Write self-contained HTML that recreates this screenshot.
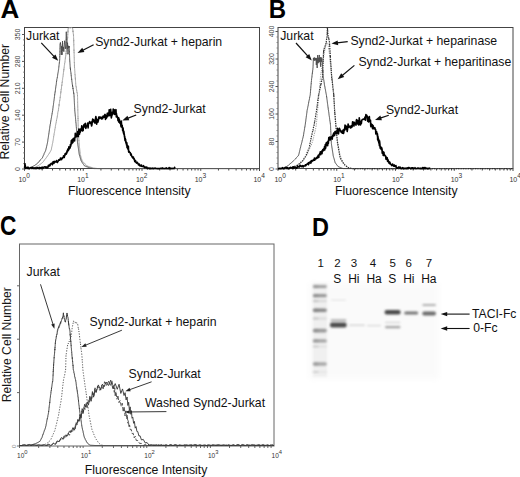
<!DOCTYPE html>
<html><head><meta charset="utf-8"><style>
html,body{margin:0;padding:0;background:#fff;width:520px;height:477px;overflow:hidden}
svg{display:block}
text{font-family:"Liberation Sans", sans-serif}
</style></head><body>
<svg width="520" height="477" viewBox="0 0 520 477" font-family='"Liberation Sans", sans-serif'><defs><filter id="blur" x="-20%" y="-100%" width="140%" height="300%"><feGaussianBlur stdDeviation="0.85"/></filter><filter id="blur2" x="-10%" y="-10%" width="120%" height="120%"><feGaussianBlur stdDeviation="3"/></filter></defs><rect width="520" height="477" fill="#fff"/><rect x="24.5" y="27.5" width="235.0" height="141.0" fill="none" stroke="#444" stroke-width="1"/><line x1="24.50" y1="169.0" x2="24.50" y2="170.8" stroke="#444" stroke-width="1"/><line x1="42.19" y1="169.0" x2="42.19" y2="170.5" stroke="#444" stroke-width="1"/><line x1="52.53" y1="169.0" x2="52.53" y2="170.5" stroke="#444" stroke-width="1"/><line x1="59.87" y1="169.0" x2="59.87" y2="170.5" stroke="#444" stroke-width="1"/><line x1="65.56" y1="169.0" x2="65.56" y2="170.5" stroke="#444" stroke-width="1"/><line x1="70.22" y1="169.0" x2="70.22" y2="170.5" stroke="#444" stroke-width="1"/><line x1="74.15" y1="169.0" x2="74.15" y2="170.5" stroke="#444" stroke-width="1"/><line x1="77.56" y1="169.0" x2="77.56" y2="170.5" stroke="#444" stroke-width="1"/><line x1="80.56" y1="169.0" x2="80.56" y2="170.5" stroke="#444" stroke-width="1"/><line x1="83.25" y1="169.0" x2="83.25" y2="170.8" stroke="#444" stroke-width="1"/><line x1="100.94" y1="169.0" x2="100.94" y2="170.5" stroke="#444" stroke-width="1"/><line x1="111.28" y1="169.0" x2="111.28" y2="170.5" stroke="#444" stroke-width="1"/><line x1="118.62" y1="169.0" x2="118.62" y2="170.5" stroke="#444" stroke-width="1"/><line x1="124.31" y1="169.0" x2="124.31" y2="170.5" stroke="#444" stroke-width="1"/><line x1="128.97" y1="169.0" x2="128.97" y2="170.5" stroke="#444" stroke-width="1"/><line x1="132.90" y1="169.0" x2="132.90" y2="170.5" stroke="#444" stroke-width="1"/><line x1="136.31" y1="169.0" x2="136.31" y2="170.5" stroke="#444" stroke-width="1"/><line x1="139.31" y1="169.0" x2="139.31" y2="170.5" stroke="#444" stroke-width="1"/><line x1="142.00" y1="169.0" x2="142.00" y2="170.8" stroke="#444" stroke-width="1"/><line x1="159.69" y1="169.0" x2="159.69" y2="170.5" stroke="#444" stroke-width="1"/><line x1="170.03" y1="169.0" x2="170.03" y2="170.5" stroke="#444" stroke-width="1"/><line x1="177.37" y1="169.0" x2="177.37" y2="170.5" stroke="#444" stroke-width="1"/><line x1="183.06" y1="169.0" x2="183.06" y2="170.5" stroke="#444" stroke-width="1"/><line x1="187.72" y1="169.0" x2="187.72" y2="170.5" stroke="#444" stroke-width="1"/><line x1="191.65" y1="169.0" x2="191.65" y2="170.5" stroke="#444" stroke-width="1"/><line x1="195.06" y1="169.0" x2="195.06" y2="170.5" stroke="#444" stroke-width="1"/><line x1="198.06" y1="169.0" x2="198.06" y2="170.5" stroke="#444" stroke-width="1"/><line x1="200.75" y1="169.0" x2="200.75" y2="170.8" stroke="#444" stroke-width="1"/><line x1="218.44" y1="169.0" x2="218.44" y2="170.5" stroke="#444" stroke-width="1"/><line x1="228.78" y1="169.0" x2="228.78" y2="170.5" stroke="#444" stroke-width="1"/><line x1="236.12" y1="169.0" x2="236.12" y2="170.5" stroke="#444" stroke-width="1"/><line x1="241.81" y1="169.0" x2="241.81" y2="170.5" stroke="#444" stroke-width="1"/><line x1="246.47" y1="169.0" x2="246.47" y2="170.5" stroke="#444" stroke-width="1"/><line x1="250.40" y1="169.0" x2="250.40" y2="170.5" stroke="#444" stroke-width="1"/><line x1="253.81" y1="169.0" x2="253.81" y2="170.5" stroke="#444" stroke-width="1"/><line x1="256.81" y1="169.0" x2="256.81" y2="170.5" stroke="#444" stroke-width="1"/><line x1="259.5" y1="168.5" x2="259.5" y2="171.0" stroke="#444" stroke-width="1"/><text x="24.20" y="181.6" font-size="7" fill="#333" text-anchor="middle">10<tspan font-size="6.6" dy="-3.8">0</tspan></text><text x="82.95" y="181.6" font-size="7" fill="#333" text-anchor="middle">10<tspan font-size="6.6" dy="-3.8">1</tspan></text><text x="141.70" y="181.6" font-size="7" fill="#333" text-anchor="middle">10<tspan font-size="6.6" dy="-3.8">2</tspan></text><text x="200.45" y="181.6" font-size="7" fill="#333" text-anchor="middle">10<tspan font-size="6.6" dy="-3.8">3</tspan></text><text x="259.20" y="181.6" font-size="7" fill="#333" text-anchor="middle">10<tspan font-size="6.6" dy="-3.8">4</tspan></text><line x1="22.0" y1="169.00" x2="24.5" y2="169.00" stroke="#555" stroke-width="1"/><text transform="translate(20.2,169.00) rotate(-90)" font-size="7" fill="#444" text-anchor="middle">0</text><line x1="23.0" y1="163.62" x2="24.5" y2="163.62" stroke="#777" stroke-width="0.8"/><line x1="23.0" y1="158.24" x2="24.5" y2="158.24" stroke="#777" stroke-width="0.8"/><line x1="23.0" y1="152.86" x2="24.5" y2="152.86" stroke="#777" stroke-width="0.8"/><line x1="23.0" y1="147.48" x2="24.5" y2="147.48" stroke="#777" stroke-width="0.8"/><line x1="22.0" y1="142.10" x2="24.5" y2="142.10" stroke="#555" stroke-width="1"/><text transform="translate(20.2,142.10) rotate(-90)" font-size="7" fill="#444" text-anchor="middle">70</text><line x1="23.0" y1="136.72" x2="24.5" y2="136.72" stroke="#777" stroke-width="0.8"/><line x1="23.0" y1="131.34" x2="24.5" y2="131.34" stroke="#777" stroke-width="0.8"/><line x1="23.0" y1="125.96" x2="24.5" y2="125.96" stroke="#777" stroke-width="0.8"/><line x1="23.0" y1="120.58" x2="24.5" y2="120.58" stroke="#777" stroke-width="0.8"/><line x1="22.0" y1="115.20" x2="24.5" y2="115.20" stroke="#555" stroke-width="1"/><text transform="translate(20.2,115.20) rotate(-90)" font-size="7" fill="#444" text-anchor="middle">140</text><line x1="23.0" y1="109.82" x2="24.5" y2="109.82" stroke="#777" stroke-width="0.8"/><line x1="23.0" y1="104.44" x2="24.5" y2="104.44" stroke="#777" stroke-width="0.8"/><line x1="23.0" y1="99.06" x2="24.5" y2="99.06" stroke="#777" stroke-width="0.8"/><line x1="23.0" y1="93.68" x2="24.5" y2="93.68" stroke="#777" stroke-width="0.8"/><line x1="22.0" y1="88.30" x2="24.5" y2="88.30" stroke="#555" stroke-width="1"/><text transform="translate(20.2,88.30) rotate(-90)" font-size="7" fill="#444" text-anchor="middle">210</text><line x1="23.0" y1="82.92" x2="24.5" y2="82.92" stroke="#777" stroke-width="0.8"/><line x1="23.0" y1="77.54" x2="24.5" y2="77.54" stroke="#777" stroke-width="0.8"/><line x1="23.0" y1="72.16" x2="24.5" y2="72.16" stroke="#777" stroke-width="0.8"/><line x1="23.0" y1="66.78" x2="24.5" y2="66.78" stroke="#777" stroke-width="0.8"/><line x1="22.0" y1="61.40" x2="24.5" y2="61.40" stroke="#555" stroke-width="1"/><text transform="translate(20.2,61.40) rotate(-90)" font-size="7" fill="#444" text-anchor="middle">280</text><line x1="23.0" y1="56.02" x2="24.5" y2="56.02" stroke="#777" stroke-width="0.8"/><line x1="23.0" y1="50.64" x2="24.5" y2="50.64" stroke="#777" stroke-width="0.8"/><line x1="23.0" y1="45.26" x2="24.5" y2="45.26" stroke="#777" stroke-width="0.8"/><line x1="23.0" y1="39.88" x2="24.5" y2="39.88" stroke="#777" stroke-width="0.8"/><line x1="22.0" y1="34.50" x2="24.5" y2="34.50" stroke="#555" stroke-width="1"/><text transform="translate(20.2,34.50) rotate(-90)" font-size="7" fill="#444" text-anchor="middle">350</text><text transform="translate(0.5,17.9) scale(1.04,1.0)" font-size="25" font-weight="bold" fill="#000">A</text><text transform="translate(9.3,159.6) rotate(-90)" font-size="12.25" fill="#111">Relative Cell Number</text><text x="68.0" y="195.3" font-size="12.25" font-weight="normal" fill="#111" text-anchor="start" >Fluorescence Intensity</text><path d="M24.50,168.60 L25.15,168.60 L25.80,168.60 L26.45,168.60 L27.10,168.60 L27.75,168.60 L28.40,168.60 L29.05,168.60 L29.70,168.60 L30.35,168.60 L31.00,168.60 L31.60,168.44 L32.20,168.24 L32.80,168.17 L33.40,167.96 L34.00,167.81 L34.54,167.42 L35.09,167.25 L35.63,167.09 L36.18,166.66 L36.72,166.48 L37.27,166.06 L37.81,165.98 L38.36,165.65 L38.90,165.29 L39.39,165.04 L39.88,164.44 L40.36,164.24 L40.85,163.95 L41.34,163.39 L41.82,163.05 L42.31,162.55 L42.80,162.28 L43.18,161.72 L43.57,161.38 L43.95,160.71 L44.33,160.09 L44.72,159.75 L45.10,159.21 L45.48,158.84 L45.87,158.19 L46.25,157.68 L46.63,157.31 L47.02,156.65 L47.40,156.12 L47.72,155.57 L48.03,155.34 L48.35,154.79 L48.67,154.23 L48.98,154.00 L49.30,153.28 L49.62,152.62 L49.93,152.51 L50.25,151.81 L50.57,151.19 L50.88,150.54 L51.20,150.13 L51.32,149.71 L51.45,148.93 L51.57,148.19 L51.69,147.32 L51.82,146.75 L51.94,146.65 L52.06,145.85 L52.18,145.53 L52.31,144.36 L52.43,143.83 L52.55,143.43 L52.68,143.02 L52.80,142.37 L52.90,141.37 L53.00,140.85 L53.10,140.58 L53.20,139.72 L53.30,139.51 L53.40,138.59 L53.50,138.11 L53.60,137.37 L53.70,136.11 L53.80,136.08 L53.90,135.55 L54.00,135.22 L54.10,133.93 L54.20,133.32 L54.30,132.76 L54.40,132.65 L54.50,131.75 L54.60,131.34 L54.70,130.81 L54.80,130.16 L54.90,129.09 L55.00,128.78 L55.10,128.38 L55.20,128.29 L55.30,126.65 L55.40,126.56 L55.51,125.45 L55.62,125.39 L55.73,124.69 L55.85,123.68 L55.96,123.17 L56.07,122.60 L56.18,122.69 L56.29,121.63 L56.40,121.24 L56.52,119.92 L56.63,119.42 L56.74,119.37 L56.85,118.81 L56.96,118.08 L57.07,117.87 L57.18,117.02 L57.30,115.82 L57.41,115.79 L57.52,115.06 L57.63,114.45 L57.74,113.13 L57.85,112.38 L57.97,112.16 L58.08,111.36 L58.19,111.04 L58.30,111.03 L58.38,109.67 L58.47,109.42 L58.55,109.56 L58.64,107.98 L58.72,107.38 L58.81,107.10 L58.89,106.93 L58.98,105.61 L59.06,104.41 L59.15,105.54 L59.23,104.21 L59.32,103.52 L59.40,102.72 L59.48,102.07 L59.57,101.35 L59.65,100.49 L59.74,100.83 L59.82,100.17 L59.91,99.64 L59.99,98.91 L60.08,98.39 L60.16,97.13 L60.25,97.55 L60.33,96.18 L60.42,95.51 L60.50,95.04 L60.58,94.62 L60.66,94.27 L60.74,92.95 L60.82,91.64 L60.90,92.38 L60.98,91.31 L61.06,90.86 L61.14,89.34 L61.22,89.06 L61.30,89.38 L61.38,88.90 L61.46,87.84 L61.54,86.71 L61.62,85.93 L61.70,85.92 L61.78,84.78 L61.86,85.48 L61.94,84.70 L62.02,83.58 L62.10,82.39 L62.18,82.81 L62.26,82.29 L62.34,80.72 L62.42,80.39 L62.50,80.03 L62.58,79.42 L62.66,78.37 L62.74,77.53 L62.82,77.41 L62.90,77.32 L62.98,77.11 L63.06,76.19 L63.14,75.31 L63.22,74.12 L63.30,74.17 L63.38,73.20 L63.46,72.40 L63.54,72.29 L63.62,72.06 L63.70,70.90 L63.78,69.46 L63.86,70.15 L63.94,68.58 L64.02,68.66 L64.10,68.19 L64.18,67.02 L64.26,66.51 L64.34,65.78 L64.42,65.26 L64.50,64.62 L64.58,64.61 L64.66,63.11 L64.74,62.84 L64.82,62.70 L64.90,62.73 L64.98,62.02 L65.06,60.71 L65.14,60.39 L65.22,59.19 L65.30,59.16 L65.38,57.70 L65.46,58.07 L65.54,57.52 L65.62,56.83 L65.70,55.65 L65.78,55.76 L65.86,55.07 L65.94,53.49 L66.02,53.00 L66.10,53.92 L66.18,51.92 L66.26,50.61 L66.34,52.06 L66.42,49.67 L66.50,49.80 L66.56,50.14 L66.61,48.53 L66.66,48.41 L66.72,46.45 L66.78,47.17 L66.83,46.49 L66.88,45.89 L66.94,46.20 L67.00,44.03 L67.05,43.60 L67.10,43.29 L67.16,42.63 L67.22,42.98 L67.27,41.83 L67.32,40.89 L67.38,40.40 L67.44,40.39 L67.49,39.21 L67.54,39.02 L67.60,37.32 L67.64,38.08 L67.67,37.12 L67.71,35.66 L67.74,34.43 L67.78,34.75 L67.81,33.85 L67.85,33.30 L67.88,32.26 L67.92,32.57 L67.95,31.19 L67.99,30.76 L68.02,31.71 L68.06,29.89 L68.09,29.17 L68.13,28.71 L68.16,29.08 L68.20,28.51 L68.81,27.95 L69.43,27.74 L70.04,27.93 L70.66,27.84 L71.27,27.50 L71.89,27.50 L72.50,28.71 L72.58,28.52 L72.67,28.45 L72.75,29.26 L72.83,30.41 L72.92,31.88 L73.00,30.75 L73.08,30.79 L73.17,32.70 L73.25,33.34 L73.33,34.13 L73.42,34.51 L73.50,35.79 L73.52,34.63 L73.54,36.50 L73.56,36.63 L73.58,37.13 L73.60,37.72 L73.62,38.05 L73.64,39.45 L73.66,40.07 L73.68,39.73 L73.70,41.16 L73.72,40.36 L73.74,41.94 L73.76,42.02 L73.78,43.51 L73.80,44.35 L73.82,43.95 L73.84,44.55 L73.86,46.71 L73.88,46.68 L73.90,46.87 L73.92,47.51 L73.94,47.75 L73.96,48.28 L73.98,50.56 L74.00,49.84 L74.02,50.87 L74.04,52.19 L74.05,52.39 L74.07,52.03 L74.09,52.93 L74.11,53.06 L74.12,54.12 L74.14,54.45 L74.16,55.13 L74.18,56.64 L74.20,56.99 L74.21,57.12 L74.23,58.02 L74.25,57.94 L74.27,58.71 L74.29,59.78 L74.30,60.53 L74.32,61.47 L74.34,61.87 L74.36,62.76 L74.38,62.19 L74.39,62.86 L74.41,63.84 L74.43,64.90 L74.45,66.20 L74.46,65.87 L74.48,66.23 L74.50,67.35 L74.54,67.11 L74.59,68.39 L74.63,68.57 L74.67,69.27 L74.72,69.87 L74.76,70.73 L74.80,70.85 L74.85,71.35 L74.89,72.64 L74.93,73.34 L74.98,73.82 L75.02,74.92 L75.06,74.63 L75.11,74.84 L75.15,76.66 L75.19,76.87 L75.24,76.80 L75.28,78.12 L75.32,77.94 L75.37,79.07 L75.41,78.75 L75.45,80.02 L75.50,80.73 L75.54,81.26 L75.58,81.79 L75.63,82.58 L75.67,83.32 L75.71,83.21 L75.76,84.42 L75.80,85.10 L75.91,85.88 L76.01,86.56 L76.12,86.22 L76.22,86.64 L76.33,88.70 L76.44,89.09 L76.54,89.13 L76.65,90.61 L76.76,90.38 L76.86,91.57 L76.97,92.47 L77.08,92.98 L77.18,92.61 L77.29,93.16 L77.39,94.47 L77.50,94.98 L77.51,96.24 L77.53,96.24 L77.54,96.92 L77.55,97.29 L77.57,97.62 L77.58,98.79 L77.59,99.76 L77.61,99.99 L77.62,100.27 L77.63,100.73 L77.65,101.66 L77.66,102.96 L77.67,103.02 L77.69,103.35 L77.70,104.08 L77.72,104.92 L77.73,104.94 L77.74,105.87 L77.76,105.99 L77.77,107.02 L77.78,107.97 L77.80,108.58 L77.81,109.38 L77.82,109.41 L77.84,109.25 L77.85,111.06 L77.86,111.57 L77.88,112.34 L77.89,113.09 L77.90,113.20 L77.92,113.46 L77.93,114.20 L77.94,114.67 L77.96,115.67 L77.97,116.78 L77.98,116.54 L78.00,117.12 L78.01,118.59 L78.03,118.06 L78.04,118.93 L78.05,119.31 L78.07,120.87 L78.08,120.56 L78.09,121.42 L78.11,122.18 L78.12,122.42 L78.13,123.37 L78.15,123.50 L78.16,124.21 L78.17,124.93 L78.19,126.11 L78.20,126.33 L78.23,126.91 L78.26,127.33 L78.29,128.51 L78.32,129.20 L78.35,128.75 L78.38,130.05 L78.42,130.99 L78.45,131.05 L78.48,132.00 L78.51,131.85 L78.54,133.02 L78.57,133.74 L78.60,134.56 L78.63,134.81 L78.66,135.75 L78.69,136.61 L78.72,136.50 L78.75,137.17 L78.78,137.99 L78.82,138.58 L78.85,139.14 L78.88,139.68 L78.91,140.94 L78.94,140.57 L78.97,141.43 L79.00,142.12 L79.06,142.67 L79.13,143.90 L79.19,143.88 L79.26,144.74 L79.33,145.35 L79.39,146.41 L79.45,146.60 L79.52,147.62 L79.58,147.68 L79.65,148.36 L79.72,148.94 L79.78,149.69 L79.84,150.24 L79.91,151.05 L79.97,151.93 L80.04,152.02 L80.11,152.92 L80.17,153.55 L80.23,154.36 L80.30,154.86 L80.49,155.06 L80.68,156.17 L80.87,156.51 L81.06,157.43 L81.25,157.95 L81.44,158.45 L81.63,158.77 L81.82,159.85 L82.01,160.31 L82.20,161.01 L82.63,161.47 L83.05,161.77 L83.48,162.34 L83.91,162.87 L84.34,163.11 L84.76,163.63 L85.19,164.07 L85.62,164.43 L86.05,164.81 L86.47,165.24 L86.90,165.91 L87.47,166.15 L88.05,166.31 L88.62,166.48 L89.19,166.76 L89.76,166.77 L90.34,167.10 L90.91,167.17 L91.48,167.41 L92.05,167.60 L92.63,167.85 L93.20,167.95 L93.80,168.13 L94.40,168.14 L95.00,168.26 L95.60,168.31 L96.20,168.40 L96.80,168.41 L97.40,168.53 L98.00,168.60 L98.60,168.60 L99.20,168.60 L99.80,168.60 L100.40,168.60 L101.00,168.60 L101.60,168.60 L102.21,168.60 L102.81,168.60 L103.41,168.60 L104.01,168.60 L104.61,168.60 L105.21,168.60 L105.81,168.60 L106.41,168.60 L107.01,168.60 L107.61,168.60 L108.21,168.60 L108.81,168.60 L109.41,168.60 L110.01,168.60 L110.62,168.60 L111.22,168.60 L111.82,168.60 L112.42,168.60 L113.02,168.60 L113.62,168.60 L114.22,168.60 L114.82,168.60 L115.42,168.60 L116.02,168.60 L116.62,168.60 L117.22,168.60 L117.82,168.60 L118.43,168.60 L119.03,168.60 L119.63,168.60 L120.23,168.60 L120.83,168.60 L121.43,168.60 L122.03,168.60 L122.63,168.60 L123.23,168.60 L123.83,168.60 L124.43,168.60 L125.03,168.60 L125.63,168.60 L126.24,168.60 L126.84,168.60 L127.44,168.60 L128.04,168.60 L128.64,168.60 L129.24,168.60 L129.84,168.60 L130.44,168.60 L131.04,168.60 L131.64,168.60 L132.24,168.60 L132.84,168.60 L133.44,168.60 L134.04,168.60 L134.65,168.60 L135.25,168.60 L135.85,168.60 L136.45,168.60 L137.05,168.60 L137.65,168.60 L138.25,168.60 L138.85,168.60 L139.45,168.60 L140.05,168.60 L140.65,168.60 L141.25,168.60 L141.85,168.60 L142.46,168.60 L143.06,168.60 L143.66,168.60 L144.26,168.60 L144.86,168.60 L145.46,168.60 L146.06,168.60 L146.66,168.60 L147.26,168.60 L147.86,168.60 L148.46,168.60 L149.06,168.60 L149.66,168.60 L150.26,168.60 L150.87,168.60 L151.47,168.60 L152.07,168.60 L152.67,168.60 L153.27,168.60 L153.87,168.60 L154.47,168.60 L155.07,168.60 L155.67,168.60 L156.27,168.60 L156.87,168.60 L157.47,168.60 L158.07,168.60 L158.68,168.60 L159.28,168.60 L159.88,168.60 L160.48,168.60 L161.08,168.60 L161.68,168.60 L162.28,168.60 L162.88,168.60 L163.48,168.60 L164.08,168.60 L164.68,168.60 L165.28,168.60 L165.88,168.60 L166.49,168.60 L167.09,168.60 L167.69,168.60 L168.29,168.60 L168.89,168.60 L169.49,168.60 L170.09,168.60 L170.69,168.60 L171.29,168.60 L171.89,168.60 L172.49,168.60 L173.09,168.60 L173.69,168.60 L174.29,168.60 L174.90,168.60 L175.50,168.60 L176.10,168.60 L176.70,168.60 L177.30,168.60 L177.90,168.60 L178.50,168.60 L179.10,168.60 L179.70,168.60 L180.30,168.60 L180.90,168.60 L181.50,168.60 L182.10,168.60 L182.71,168.60 L183.31,168.60 L183.91,168.60 L184.51,168.60 L185.11,168.60 L185.71,168.60 L186.31,168.60 L186.91,168.60 L187.51,168.60 L188.11,168.60 L188.71,168.60 L189.31,168.60 L189.91,168.60 L190.51,168.60 L191.12,168.60 L191.72,168.60 L192.32,168.60 L192.92,168.60 L193.52,168.60 L194.12,168.60 L194.72,168.60 L195.32,168.60 L195.92,168.60 L196.52,168.60 L197.12,168.60 L197.72,168.60 L198.32,168.60 L198.93,168.60 L199.53,168.60 L200.13,168.60 L200.73,168.60 L201.33,168.60 L201.93,168.60 L202.53,168.60 L203.13,168.60 L203.73,168.60 L204.33,168.60 L204.93,168.60 L205.53,168.60 L206.13,168.60 L206.74,168.60 L207.34,168.60 L207.94,168.60 L208.54,168.60 L209.14,168.60 L209.74,168.60 L210.34,168.60 L210.94,168.60 L211.54,168.60 L212.14,168.60 L212.74,168.60 L213.34,168.60 L213.94,168.60 L214.54,168.60 L215.15,168.60 L215.75,168.60 L216.35,168.60 L216.95,168.60 L217.55,168.60 L218.15,168.60 L218.75,168.60 L219.35,168.60 L219.95,168.60 L220.55,168.60 L221.15,168.60 L221.75,168.60 L222.35,168.60 L222.96,168.60 L223.56,168.60 L224.16,168.60 L224.76,168.60 L225.36,168.60 L225.96,168.60 L226.56,168.60 L227.16,168.60 L227.76,168.60 L228.36,168.60 L228.96,168.60 L229.56,168.60 L230.16,168.60 L230.76,168.60 L231.37,168.60 L231.97,168.60 L232.57,168.60 L233.17,168.60 L233.77,168.60 L234.37,168.60 L234.97,168.60 L235.57,168.60 L236.17,168.60 L236.77,168.60 L237.37,168.60 L237.97,168.60 L238.57,168.60 L239.18,168.60 L239.78,168.60 L240.38,168.60 L240.98,168.60 L241.58,168.60 L242.18,168.60 L242.78,168.60 L243.38,168.60 L243.98,168.60 L244.58,168.60 L245.18,168.60 L245.78,168.60 L246.38,168.60 L246.99,168.60 L247.59,168.60 L248.19,168.60 L248.79,168.60 L249.39,168.60 L249.99,168.60 L250.59,168.60 L251.19,168.60 L251.79,168.60 L252.39,168.60 L252.99,168.60 L253.59,168.60 L254.19,168.60 L254.79,168.60 L255.40,168.60 L256.00,168.60 L256.60,168.60 L257.20,168.60 L257.80,168.60 L258.40,168.60 L259.00,168.60" fill="none" stroke="#a0a0a0" stroke-width="1.0" stroke-linejoin="round" /><path d="M24.50,168.60 L25.12,168.60 L25.75,168.60 L26.38,168.60 L27.00,168.60 L27.67,168.51 L28.33,168.41 L29.00,168.28 L29.57,168.01 L30.14,167.74 L30.71,167.52 L31.29,167.26 L31.86,167.01 L32.43,166.77 L33.00,166.48 L33.55,166.03 L34.10,165.68 L34.65,165.43 L35.20,165.02 L35.75,164.61 L36.30,164.32 L36.85,163.86 L37.40,163.43 L37.82,163.01 L38.23,162.40 L38.65,161.97 L39.07,161.72 L39.48,160.90 L39.90,160.74 L40.32,159.94 L40.73,159.62 L41.15,159.09 L41.57,158.66 L41.98,158.22 L42.40,157.85 L42.64,157.25 L42.89,156.55 L43.13,156.23 L43.37,155.48 L43.61,154.93 L43.86,154.63 L44.10,153.63 L44.34,153.28 L44.59,152.79 L44.83,152.24 L45.07,151.77 L45.31,151.34 L45.56,150.62 L45.80,150.10 L45.94,149.32 L46.08,148.69 L46.22,148.06 L46.35,147.75 L46.49,146.94 L46.63,146.41 L46.77,145.92 L46.91,145.18 L47.05,144.59 L47.18,144.20 L47.32,143.43 L47.46,142.68 L47.60,142.08 L47.69,141.52 L47.78,140.74 L47.87,140.19 L47.95,139.41 L48.04,139.04 L48.13,138.47 L48.22,137.79 L48.31,137.50 L48.40,136.74 L48.48,136.08 L48.57,135.47 L48.66,135.02 L48.75,134.37 L48.84,133.87 L48.93,133.01 L49.02,132.62 L49.10,131.94 L49.19,131.17 L49.28,130.81 L49.37,129.91 L49.46,129.32 L49.55,128.81 L49.63,128.29 L49.72,127.76 L49.81,127.07 L49.90,126.23 L50.00,125.84 L50.11,125.04 L50.21,124.41 L50.32,124.08 L50.42,123.82 L50.52,122.79 L50.63,121.72 L50.73,121.77 L50.83,120.95 L50.94,119.97 L51.04,119.71 L51.15,119.34 L51.25,118.40 L51.35,117.85 L51.46,117.61 L51.56,116.55 L51.67,116.36 L51.77,115.36 L51.87,115.01 L51.98,114.49 L52.08,113.27 L52.18,113.39 L52.29,112.50 L52.39,112.36 L52.50,111.21 L52.60,110.82 L52.68,110.29 L52.76,109.85 L52.84,108.90 L52.92,108.26 L53.00,107.86 L53.08,107.13 L53.17,106.24 L53.25,105.99 L53.33,105.38 L53.41,104.70 L53.49,104.52 L53.57,103.38 L53.65,102.76 L53.73,102.44 L53.81,101.44 L53.89,100.92 L53.97,100.66 L54.05,100.05 L54.13,99.36 L54.22,98.70 L54.30,98.07 L54.38,97.17 L54.46,96.59 L54.54,96.31 L54.62,95.26 L54.70,95.19 L54.79,93.99 L54.87,93.67 L54.96,92.66 L55.04,92.77 L55.13,92.28 L55.21,91.01 L55.30,91.01 L55.39,90.39 L55.47,89.53 L55.56,88.43 L55.64,88.48 L55.73,87.79 L55.81,86.96 L55.90,86.25 L55.99,85.84 L56.07,84.98 L56.16,84.86 L56.24,84.22 L56.33,83.59 L56.41,82.51 L56.50,82.04 L56.60,81.07 L56.70,80.80 L56.80,79.58 L56.90,79.11 L57.00,78.79 L57.10,78.40 L57.20,78.20 L57.30,77.01 L57.40,76.81 L57.50,76.29 L57.60,75.57 L57.70,74.80 L57.80,74.03 L57.90,73.44 L58.00,72.69 L58.10,72.53 L58.20,71.70 L58.30,71.51 L58.40,70.42 L58.50,70.09 L58.58,69.59 L58.65,68.66 L58.73,68.33 L58.80,67.37 L58.88,67.33 L58.95,66.04 L59.02,65.50 L59.10,64.70 L59.18,64.41 L59.25,63.52 L59.33,63.60 L59.40,62.09 L59.48,61.93 L59.55,61.42 L59.62,60.27 L59.70,60.20 L59.71,59.13 L59.73,58.53 L59.74,58.18 L59.75,57.15 L59.76,56.19 L59.78,56.35 L59.79,55.87 L59.80,55.45 L59.81,53.86 L59.83,53.64 L59.84,53.46 L59.85,53.04 L59.86,52.24 L59.88,50.85 L59.89,50.42 L59.90,49.69 L59.91,49.56 L59.92,49.10 L59.94,48.07 L59.95,47.47 L59.96,47.40 L59.98,46.42 L59.99,45.59 L60.00,45.13 L60.14,43.81 L60.28,43.34 L60.42,42.50 L60.50,44.12 L60.59,44.15 L60.67,44.59 L60.76,45.55 L60.84,45.98 L60.87,46.73 L60.90,47.76 L60.94,48.72 L60.97,48.91 L61.00,49.31 L61.03,49.69 L61.07,50.44 L61.10,51.24 L61.13,52.15 L61.16,52.62 L61.20,52.85 L61.23,53.86 L61.26,54.85 L61.29,53.67 L61.32,53.29 L61.35,52.51 L61.38,52.33 L61.41,51.04 L61.44,51.30 L61.47,50.30 L61.50,49.64 L61.53,49.01 L61.56,48.50 L61.59,47.90 L61.62,46.55 L61.65,46.26 L61.68,45.94 L61.71,46.50 L61.74,47.27 L61.77,47.87 L61.80,47.60 L61.83,48.46 L61.86,49.34 L61.89,49.99 L61.92,50.45 L61.95,50.90 L61.98,51.62 L62.01,52.34 L62.04,52.84 L62.07,53.90 L62.10,54.75 L62.12,53.54 L62.14,52.85 L62.16,52.63 L62.18,51.76 L62.20,51.53 L62.22,50.71 L62.24,49.26 L62.26,49.17 L62.28,48.67 L62.30,47.93 L62.32,47.94 L62.34,46.61 L62.36,46.48 L62.38,44.86 L62.40,44.97 L62.42,43.94 L62.44,43.90 L62.46,43.18 L62.48,42.31 L62.50,41.42 L62.52,41.06 L62.55,42.18 L62.58,42.77 L62.60,43.75 L62.63,43.45 L62.66,44.66 L62.69,45.23 L62.72,45.64 L62.74,46.06 L62.77,46.96 L62.80,47.38 L62.83,48.30 L62.86,49.01 L62.88,49.78 L62.91,49.77 L62.94,50.83 L63.01,49.86 L63.08,49.72 L63.15,48.96 L63.22,48.47 L63.29,47.51 L63.36,46.92 L63.41,47.73 L63.47,48.14 L63.52,49.28 L63.57,49.55 L63.62,50.48 L63.68,50.51 L63.73,51.21 L63.78,51.48 L63.83,51.66 L63.89,50.88 L63.94,50.64 L63.99,49.68 L64.04,49.23 L64.10,48.13 L64.15,47.60 L64.20,46.82 L64.25,46.34 L64.29,45.51 L64.34,45.15 L64.39,44.47 L64.43,43.79 L64.48,42.86 L64.53,42.52 L64.57,41.28 L64.62,40.79 L64.70,41.73 L64.79,42.19 L64.87,43.03 L64.96,43.36 L65.04,43.73 L65.09,44.65 L65.15,45.21 L65.20,45.83 L65.25,46.38 L65.30,46.70 L65.36,47.21 L65.41,48.78 L65.46,48.65 L65.52,48.64 L65.58,47.85 L65.64,46.93 L65.70,46.37 L65.76,45.81 L65.82,45.27 L65.88,44.49 L65.90,43.88 L65.92,43.36 L65.94,43.08 L65.96,41.56 L65.99,41.04 L66.01,40.83 L66.03,40.27 L66.05,40.27 L66.07,39.03 L66.09,38.60 L66.11,37.84 L66.13,36.64 L66.15,36.06 L66.17,35.49 L66.20,35.52 L66.22,34.75 L66.24,33.48 L66.26,32.88 L66.28,32.53 L66.30,31.77 L66.33,32.94 L66.36,33.18 L66.38,33.45 L66.41,34.49 L66.44,35.34 L66.47,35.50 L66.50,36.30 L66.52,37.35 L66.55,37.22 L66.58,37.45 L66.61,38.15 L66.64,39.97 L66.66,39.64 L66.69,40.53 L66.72,40.74 L66.76,41.52 L66.79,43.10 L66.83,42.95 L66.86,43.36 L66.90,44.81 L66.93,45.05 L66.97,45.24 L67.00,46.64 L67.04,47.04 L67.07,47.63 L67.11,48.42 L67.14,49.19 L67.19,48.74 L67.23,47.33 L67.28,46.62 L67.33,46.45 L67.37,45.03 L67.42,45.29 L67.47,44.59 L67.51,43.08 L67.56,42.83 L67.58,43.38 L67.60,43.83 L67.63,44.59 L67.65,45.29 L67.67,45.48 L67.69,46.54 L67.71,47.05 L67.74,47.39 L67.76,48.39 L67.78,49.11 L67.80,49.64 L67.83,49.87 L67.85,50.82 L67.87,50.96 L67.89,51.56 L67.91,52.52 L67.94,53.29 L67.96,53.12 L67.98,54.30 L68.01,53.72 L68.04,53.10 L68.08,52.70 L68.11,51.56 L68.14,51.29 L68.17,50.07 L68.21,49.93 L68.24,49.37 L68.27,48.23 L68.30,47.81 L68.34,47.38 L68.37,46.28 L68.40,45.82 L68.54,47.11 L68.68,47.87 L68.82,47.60 L68.96,47.21 L69.10,46.69 L69.24,46.00 L69.26,46.08 L69.28,47.11 L69.30,48.27 L69.32,48.45 L69.34,49.02 L69.36,49.33 L69.38,50.80 L69.40,51.70 L69.42,51.35 L69.44,52.16 L69.46,52.96 L69.48,53.60 L69.50,54.10 L69.52,54.07 L69.54,55.11 L69.56,55.81 L69.58,56.37 L69.60,57.22 L69.62,57.70 L69.64,58.10 L69.66,58.77 L69.68,59.82 L69.70,60.53 L69.75,60.43 L69.79,60.87 L69.84,61.92 L69.88,62.35 L69.93,63.25 L69.97,63.75 L70.02,64.35 L70.06,65.19 L70.11,65.70 L70.15,66.52 L70.20,66.60 L70.27,68.14 L70.34,68.86 L70.42,68.42 L70.49,68.95 L70.56,70.58 L70.63,70.58 L70.70,71.26 L70.78,71.88 L70.85,72.03 L70.92,72.66 L70.99,73.73 L71.06,73.64 L71.14,74.42 L71.21,75.94 L71.28,75.87 L71.35,76.63 L71.42,77.29 L71.50,77.90 L71.57,78.30 L71.64,79.24 L71.71,78.98 L71.78,80.21 L71.86,80.68 L71.93,81.63 L72.00,82.30 L72.10,82.45 L72.19,83.41 L72.29,84.46 L72.38,84.40 L72.48,84.92 L72.57,86.32 L72.67,85.89 L72.76,86.95 L72.86,87.43 L72.95,88.78 L73.05,88.27 L73.14,89.32 L73.24,89.70 L73.33,90.80 L73.43,91.55 L73.52,91.53 L73.62,91.97 L73.71,93.63 L73.81,93.25 L73.90,94.22 L74.00,94.94 L74.03,95.37 L74.06,96.01 L74.09,96.96 L74.12,97.29 L74.15,97.95 L74.18,98.52 L74.22,99.14 L74.25,99.82 L74.28,100.49 L74.31,100.64 L74.34,101.56 L74.37,102.47 L74.40,102.71 L74.43,103.63 L74.46,103.90 L74.49,104.63 L74.52,105.42 L74.55,105.92 L74.58,106.50 L74.62,107.15 L74.65,107.55 L74.68,108.04 L74.71,108.87 L74.74,109.40 L74.77,110.14 L74.80,110.91 L74.86,111.43 L74.92,111.94 L74.97,112.52 L75.03,113.44 L75.09,113.46 L75.15,113.92 L75.20,114.70 L75.26,115.80 L75.32,116.30 L75.38,116.46 L75.43,117.30 L75.49,117.53 L75.55,118.63 L75.61,119.46 L75.67,119.72 L75.72,120.23 L75.78,121.39 L75.84,121.43 L75.90,122.04 L75.95,122.98 L76.01,123.12 L76.07,123.83 L76.13,124.66 L76.18,125.27 L76.24,126.15 L76.30,126.57 L76.35,126.91 L76.39,127.83 L76.44,128.28 L76.48,128.86 L76.53,129.38 L76.58,130.11 L76.62,130.78 L76.67,131.21 L76.72,131.94 L76.76,132.35 L76.81,133.03 L76.85,133.58 L76.90,134.09 L76.95,134.74 L76.99,135.65 L77.04,136.07 L77.08,136.75 L77.13,137.12 L77.18,137.96 L77.22,138.51 L77.27,139.06 L77.32,139.47 L77.36,140.73 L77.41,140.95 L77.45,141.45 L77.50,142.35 L77.59,142.91 L77.67,143.10 L77.76,143.91 L77.84,144.34 L77.93,145.04 L78.01,145.78 L78.10,146.19 L78.19,147.09 L78.27,147.44 L78.36,148.15 L78.44,148.64 L78.53,149.33 L78.61,149.82 L78.70,150.53 L78.79,151.32 L78.87,151.84 L78.96,152.42 L79.04,152.97 L79.13,153.61 L79.21,154.06 L79.30,154.68 L79.49,155.37 L79.68,156.08 L79.87,156.36 L80.06,157.17 L80.25,157.82 L80.44,158.50 L80.63,159.15 L80.82,159.72 L81.01,160.31 L81.20,161.03 L81.57,161.45 L81.93,162.03 L82.30,162.73 L82.67,163.12 L83.03,163.75 L83.40,164.26 L83.77,164.60 L84.13,165.31 L84.50,165.84 L85.11,166.11 L85.72,166.22 L86.33,166.60 L86.94,166.76 L87.56,166.99 L88.17,167.22 L88.78,167.50 L89.39,167.77 L90.00,168.03 L90.67,168.05 L91.33,168.20 L92.00,168.30 L92.67,168.40 L93.33,168.51 L94.00,168.60 L94.60,168.60 L95.20,168.60 L95.80,168.60 L96.40,168.60 L97.00,168.60 L97.60,168.60 L98.20,168.60 L98.80,168.60 L99.40,168.60 L100.00,168.60 L100.60,168.60 L101.20,168.60 L101.80,168.60 L102.40,168.60 L103.00,168.60 L103.60,168.60 L104.20,168.60 L104.80,168.60 L105.40,168.60 L106.00,168.60 L106.60,168.60 L107.20,168.60 L107.80,168.60 L108.40,168.60 L109.00,168.60 L109.60,168.60 L110.20,168.60 L110.80,168.60 L111.40,168.60 L112.00,168.60 L112.60,168.60 L113.20,168.60 L113.80,168.60 L114.40,168.60 L115.00,168.60 L115.60,168.60 L116.20,168.60 L116.80,168.60 L117.40,168.60 L118.00,168.60 L118.60,168.60 L119.20,168.60 L119.80,168.60 L120.40,168.60 L121.00,168.60 L121.60,168.60 L122.20,168.60 L122.80,168.60 L123.40,168.60 L124.00,168.60 L124.60,168.60 L125.20,168.60 L125.80,168.60 L126.40,168.60 L127.00,168.60 L127.60,168.60 L128.20,168.60 L128.80,168.60 L129.40,168.60 L130.00,168.60 L130.60,168.60 L131.20,168.60 L131.80,168.60 L132.40,168.60 L133.00,168.60 L133.60,168.60 L134.20,168.60 L134.80,168.60 L135.40,168.60 L136.00,168.60 L136.60,168.60 L137.20,168.60 L137.80,168.60 L138.40,168.60 L139.00,168.60 L139.60,168.60 L140.20,168.60 L140.80,168.60 L141.40,168.60 L142.00,168.60 L142.60,168.60 L143.20,168.60 L143.80,168.60 L144.40,168.60 L145.00,168.60 L145.60,168.60 L146.20,168.60 L146.80,168.60 L147.40,168.60 L148.00,168.60 L148.60,168.60 L149.20,168.60 L149.80,168.60 L150.40,168.60 L151.00,168.60 L151.60,168.60 L152.20,168.60 L152.80,168.60 L153.40,168.60 L154.00,168.60 L154.60,168.60 L155.20,168.60 L155.80,168.60 L156.40,168.60 L157.00,168.60 L157.60,168.60 L158.20,168.60 L158.80,168.60 L159.40,168.60 L160.00,168.60 L160.60,168.60 L161.20,168.60 L161.80,168.60 L162.40,168.60 L163.00,168.60 L163.60,168.60 L164.20,168.60 L164.80,168.60 L165.40,168.60 L166.00,168.60 L166.60,168.60 L167.20,168.60 L167.80,168.60 L168.40,168.60 L169.00,168.60 L169.60,168.60 L170.20,168.60 L170.80,168.60 L171.40,168.60 L172.00,168.60 L172.60,168.60 L173.20,168.60 L173.80,168.60 L174.40,168.60 L175.00,168.60 L175.60,168.60 L176.20,168.60 L176.80,168.60 L177.40,168.60 L178.00,168.60 L178.60,168.60 L179.20,168.60 L179.80,168.60 L180.40,168.60 L181.00,168.60 L181.60,168.60 L182.20,168.60 L182.80,168.60 L183.40,168.60 L184.00,168.60 L184.60,168.60 L185.20,168.60 L185.80,168.60 L186.40,168.60 L187.00,168.60 L187.60,168.60 L188.20,168.60 L188.80,168.60 L189.40,168.60 L190.00,168.60 L190.60,168.60 L191.20,168.60 L191.80,168.60 L192.40,168.60 L193.00,168.60 L193.60,168.60 L194.20,168.60 L194.80,168.60 L195.40,168.60 L196.00,168.60 L196.60,168.60 L197.20,168.60 L197.80,168.60 L198.40,168.60 L199.00,168.60 L199.60,168.60 L200.20,168.60 L200.80,168.60 L201.40,168.60 L202.00,168.60 L202.60,168.60 L203.20,168.60 L203.80,168.60 L204.40,168.60 L205.00,168.60 L205.60,168.60 L206.20,168.60 L206.80,168.60 L207.40,168.60 L208.00,168.60 L208.60,168.60 L209.20,168.60 L209.80,168.60 L210.40,168.60 L211.00,168.60 L211.60,168.60 L212.20,168.60 L212.80,168.60 L213.40,168.60 L214.00,168.60 L214.60,168.60 L215.20,168.60 L215.80,168.60 L216.40,168.60 L217.00,168.60 L217.60,168.60 L218.20,168.60 L218.80,168.60 L219.40,168.60 L220.00,168.60 L220.60,168.60 L221.20,168.60 L221.80,168.60 L222.40,168.60 L223.00,168.60 L223.60,168.60 L224.20,168.60 L224.80,168.60 L225.40,168.60 L226.00,168.60 L226.60,168.60 L227.20,168.60 L227.80,168.60 L228.40,168.60 L229.00,168.60 L229.60,168.60 L230.20,168.60 L230.80,168.60 L231.40,168.60 L232.00,168.60 L232.60,168.60 L233.20,168.60 L233.80,168.60 L234.40,168.60 L235.00,168.60 L235.60,168.60 L236.20,168.60 L236.80,168.60 L237.40,168.60 L238.00,168.60 L238.60,168.60 L239.20,168.60 L239.80,168.60 L240.40,168.60 L241.00,168.60 L241.60,168.60 L242.20,168.60 L242.80,168.60 L243.40,168.60 L244.00,168.60 L244.60,168.60 L245.20,168.60 L245.80,168.60 L246.40,168.60 L247.00,168.60 L247.60,168.60 L248.20,168.60 L248.80,168.60 L249.40,168.60 L250.00,168.60 L250.60,168.60 L251.20,168.60 L251.80,168.60 L252.40,168.60 L253.00,168.60 L253.60,168.60 L254.20,168.60 L254.80,168.60 L255.40,168.60 L256.00,168.60 L256.60,168.60 L257.20,168.60 L257.80,168.60 L258.40,168.60 L259.00,168.60" fill="none" stroke="#4a4a4a" stroke-width="1.0" stroke-linejoin="round" /><path d="M24.50,168.60 L24.55,168.37 L24.60,168.14 L24.65,167.43 L24.70,166.79 L24.75,165.95 L24.80,165.95 L24.85,165.59 L24.90,165.35 L24.95,163.66 L25.00,163.73 L25.07,165.15 L25.15,165.16 L25.23,165.35 L25.30,165.69 L25.38,166.49 L25.45,167.92 L25.53,167.10 L25.60,168.55 L26.07,167.71 L26.53,167.62 L27.00,168.17 L27.45,168.42 L27.91,167.05 L28.36,168.60 L28.81,168.16 L29.27,168.60 L29.72,168.60 L30.18,167.79 L30.63,167.74 L31.08,167.53 L31.54,167.75 L31.99,168.54 L32.44,167.45 L32.90,168.27 L33.35,167.91 L33.80,168.56 L34.26,168.16 L34.71,167.91 L35.16,168.60 L35.62,167.94 L36.07,168.32 L36.53,168.57 L36.98,167.49 L37.43,168.36 L37.89,167.77 L38.34,168.37 L38.79,168.56 L39.25,167.41 L39.70,168.60 L40.16,167.61 L40.63,167.99 L41.09,168.54 L41.56,168.03 L42.02,167.15 L42.49,167.19 L42.95,168.43 L43.42,167.65 L43.88,167.17 L44.35,167.02 L44.81,166.87 L45.28,167.17 L45.74,166.77 L46.21,168.03 L46.67,167.04 L47.14,167.22 L47.60,167.89 L48.00,166.86 L48.40,165.32 L48.80,166.52 L49.20,165.58 L49.60,164.72 L50.00,165.75 L50.40,164.00 L50.80,164.03 L51.20,163.54 L51.60,163.31 L52.00,163.67 L52.40,164.75 L52.80,162.69 L53.20,161.65 L53.60,162.65 L54.00,163.35 L54.40,161.43 L54.80,161.53 L55.20,162.01 L55.64,161.81 L56.08,161.91 L56.53,160.50 L56.97,161.88 L57.41,162.48 L57.85,161.39 L58.29,161.04 L58.73,159.70 L59.17,160.06 L59.62,160.25 L60.06,159.47 L60.50,157.97 L60.84,159.34 L61.19,159.07 L61.53,159.55 L61.88,158.87 L62.22,157.81 L62.57,158.20 L62.91,157.64 L63.26,157.18 L63.60,155.72 L63.89,156.16 L64.18,157.47 L64.47,156.21 L64.76,155.59 L65.05,153.93 L65.35,154.76 L65.64,153.59 L65.93,153.00 L66.22,154.24 L66.51,153.70 L66.80,152.53 L67.01,151.84 L67.21,150.55 L67.42,151.78 L67.63,150.04 L67.83,149.32 L68.04,148.87 L68.25,150.56 L68.45,148.52 L68.66,149.99 L68.87,146.89 L69.07,149.07 L69.28,148.93 L69.49,147.35 L69.69,146.97 L69.90,147.27 L70.14,148.01 L70.38,144.43 L70.62,146.29 L70.85,145.25 L71.09,143.87 L71.33,140.64 L71.57,143.59 L71.81,143.62 L72.05,142.32 L72.28,139.52 L72.52,140.40 L72.76,142.66 L73.00,142.13 L73.23,138.72 L73.46,138.45 L73.69,138.23 L73.91,140.25 L74.14,138.52 L74.37,139.34 L74.60,140.89 L74.83,137.58 L75.06,137.69 L75.29,133.18 L75.51,134.73 L75.74,136.47 L75.97,135.36 L76.20,135.41 L76.50,136.78 L76.80,134.10 L77.10,136.19 L77.40,132.59 L77.70,131.61 L78.00,133.47 L78.30,136.57 L78.60,132.84 L78.90,128.99 L79.20,130.77 L79.50,134.26 L79.80,131.73 L80.10,132.37 L80.40,129.03 L80.74,130.56 L81.09,130.58 L81.43,129.34 L81.78,125.70 L82.12,130.49 L82.47,130.92 L82.81,129.70 L83.16,130.55 L83.50,126.23 L83.97,124.60 L84.43,126.95 L84.90,124.25 L85.37,123.41 L85.83,128.36 L86.30,126.64 L86.77,125.75 L87.23,125.66 L87.70,123.12 L88.08,127.87 L88.47,123.40 L88.85,122.96 L89.23,122.79 L89.62,121.57 L90.00,123.20 L90.38,123.51 L90.77,122.79 L91.15,122.07 L91.54,126.01 L91.92,124.92 L92.31,121.29 L92.69,119.03 L93.08,121.53 L93.46,121.64 L93.85,119.93 L94.23,121.54 L94.62,122.37 L95.00,123.15 L95.42,119.37 L95.83,116.50 L96.25,118.54 L96.67,124.24 L97.08,120.15 L97.50,119.61 L97.92,122.12 L98.33,120.63 L98.75,117.04 L99.17,118.05 L99.58,118.46 L100.00,116.91 L100.44,117.50 L100.89,117.30 L101.33,118.71 L101.78,118.96 L102.22,116.98 L102.67,118.66 L103.11,116.10 L103.56,116.55 L104.00,117.22 L104.50,115.47 L105.00,114.45 L105.50,119.52 L106.00,115.64 L106.50,118.13 L107.00,116.47 L107.27,113.23 L107.55,113.78 L107.82,116.38 L108.09,114.83 L108.36,112.83 L108.64,113.76 L108.91,115.09 L109.18,109.70 L109.45,113.53 L109.73,115.75 L110.00,113.43 L110.33,109.92 L110.67,109.25 L111.00,113.44 L111.33,117.91 L111.67,116.01 L112.00,115.46 L112.25,113.90 L112.49,111.98 L112.74,114.07 L112.98,113.23 L113.23,109.09 L113.47,112.05 L113.72,113.78 L113.96,110.94 L114.21,109.71 L114.45,111.87 L114.70,114.52 L114.88,111.85 L115.06,111.52 L115.24,110.87 L115.42,114.32 L115.60,113.75 L115.78,110.14 L115.96,109.65 L116.14,112.99 L116.32,117.03 L116.50,113.70 L116.69,114.96 L116.88,115.54 L117.06,116.03 L117.25,116.20 L117.44,117.02 L117.62,117.92 L117.81,118.33 L118.00,120.74 L118.22,117.95 L118.44,118.59 L118.67,117.88 L118.89,122.14 L119.11,119.44 L119.33,119.22 L119.56,121.87 L119.78,121.79 L120.00,123.45 L120.22,121.20 L120.44,122.38 L120.67,122.77 L120.89,125.90 L121.11,126.70 L121.33,121.04 L121.56,124.24 L121.78,127.26 L122.00,126.63 L122.17,125.19 L122.33,127.11 L122.50,128.30 L122.67,130.65 L122.83,127.65 L123.00,128.92 L123.17,128.50 L123.33,132.39 L123.50,130.99 L123.57,133.62 L123.64,131.02 L123.71,131.36 L123.78,131.23 L123.85,132.54 L123.92,131.53 L123.99,131.90 L124.06,135.00 L124.13,134.65 L124.20,134.59 L124.27,133.72 L124.34,134.81 L124.41,135.49 L124.48,137.07 L124.55,136.53 L124.62,136.18 L124.69,138.17 L124.76,136.48 L124.83,138.30 L124.90,139.72 L125.04,140.74 L125.18,138.40 L125.32,139.49 L125.46,139.90 L125.60,139.31 L125.75,141.06 L125.89,142.94 L126.03,142.12 L126.17,143.65 L126.31,142.11 L126.45,145.05 L126.59,144.49 L126.73,143.61 L126.87,142.89 L127.01,147.60 L127.15,147.14 L127.30,145.14 L127.44,145.65 L127.58,148.35 L127.72,148.75 L127.86,147.70 L128.00,149.16 L128.19,149.10 L128.38,146.40 L128.56,151.09 L128.75,152.10 L128.94,151.81 L129.13,151.18 L129.32,152.29 L129.51,152.28 L129.69,152.51 L129.88,152.62 L130.07,152.61 L130.26,152.64 L130.45,154.18 L130.64,153.63 L130.82,155.12 L131.01,154.87 L131.20,153.96 L131.48,155.53 L131.75,156.22 L132.03,156.21 L132.31,157.42 L132.58,156.98 L132.86,157.90 L133.14,158.33 L133.41,157.08 L133.69,158.92 L133.96,158.68 L134.24,158.75 L134.52,160.27 L134.79,161.55 L135.07,160.23 L135.35,161.87 L135.62,160.71 L135.90,162.25 L136.27,162.70 L136.64,163.03 L137.01,162.52 L137.38,162.34 L137.75,163.22 L138.12,164.01 L138.49,164.82 L138.86,163.77 L139.24,164.07 L139.61,165.66 L139.98,164.98 L140.35,166.01 L140.72,165.65 L141.09,166.06 L141.46,165.08 L141.83,166.39 L142.20,166.56 L142.66,166.39 L143.12,166.47 L143.58,165.71 L144.04,166.79 L144.49,167.68 L144.95,167.08 L145.41,167.14 L145.87,167.64 L146.33,167.20 L146.79,167.08 L147.25,168.60 L147.71,168.60 L148.16,168.07 L148.62,168.07 L149.08,168.60 L149.54,168.17 L150.00,168.60 L150.45,168.60 L150.91,168.12 L151.36,168.56 L151.82,168.60 L152.27,168.60 L152.73,168.07 L153.18,168.60 L153.64,168.60 L154.09,168.30 L154.55,168.43 L155.00,168.18 L155.45,168.53 L155.91,168.36 L156.36,168.60 L156.82,168.48 L157.27,168.60 L157.73,168.60 L158.18,168.60 L158.64,168.60 L159.09,168.56 L159.55,168.55 L160.00,168.60 L160.45,168.35 L160.91,168.21 L161.36,168.53 L161.82,168.60 L162.27,167.84 L162.73,168.60 L163.18,168.35 L163.64,168.60 L164.09,168.60 L164.55,168.60 L165.00,168.47 L165.45,168.30 L165.91,168.60 L166.36,167.85 L166.82,168.60 L167.27,168.60 L167.73,168.54 L168.18,168.56 L168.64,168.60 L169.09,167.50 L169.55,168.60 L170.00,168.42 L170.45,168.08 L170.91,168.60 L171.36,168.60 L171.82,168.37 L172.27,168.60 L172.73,168.36 L173.18,168.60 L173.64,168.47 L174.09,168.60 L174.55,167.33 L175.00,168.60" fill="none" stroke="#000" stroke-width="1.6" stroke-linejoin="round" /><text x="26.0" y="40.1" font-size="12.25" font-weight="normal" fill="#111" text-anchor="start" >Jurkat</text><line x1="41.3" y1="42.8" x2="54.44" y2="56.79" stroke="#111" stroke-width="1.2"/><polygon points="58.20,60.80 52.00,57.70 55.50,54.42" fill="#111"/><text x="95.2" y="46.3" font-size="12.25" font-weight="normal" fill="#111" text-anchor="start" >Synd2-Jurkat + heparin</text><line x1="93.6" y1="44.8" x2="82.41" y2="50.43" stroke="#111" stroke-width="1.2"/><polygon points="77.50,52.90 82.23,47.83 84.39,52.12" fill="#111"/><text x="133.6" y="113.4" font-size="12.25" font-weight="normal" fill="#111" text-anchor="start" >Synd2-Jurkat</text><line x1="136.2" y1="115" x2="127.43" y2="118.41" stroke="#111" stroke-width="1.2"/><polygon points="122.30,120.40 127.49,115.81 129.23,120.28" fill="#111"/><rect x="278.0" y="27.5" width="235.0" height="141.0" fill="none" stroke="#444" stroke-width="1"/><line x1="278.00" y1="169.0" x2="278.00" y2="170.8" stroke="#444" stroke-width="1"/><line x1="295.69" y1="169.0" x2="295.69" y2="170.5" stroke="#444" stroke-width="1"/><line x1="306.03" y1="169.0" x2="306.03" y2="170.5" stroke="#444" stroke-width="1"/><line x1="313.37" y1="169.0" x2="313.37" y2="170.5" stroke="#444" stroke-width="1"/><line x1="319.06" y1="169.0" x2="319.06" y2="170.5" stroke="#444" stroke-width="1"/><line x1="323.72" y1="169.0" x2="323.72" y2="170.5" stroke="#444" stroke-width="1"/><line x1="327.65" y1="169.0" x2="327.65" y2="170.5" stroke="#444" stroke-width="1"/><line x1="331.06" y1="169.0" x2="331.06" y2="170.5" stroke="#444" stroke-width="1"/><line x1="334.06" y1="169.0" x2="334.06" y2="170.5" stroke="#444" stroke-width="1"/><line x1="336.75" y1="169.0" x2="336.75" y2="170.8" stroke="#444" stroke-width="1"/><line x1="354.44" y1="169.0" x2="354.44" y2="170.5" stroke="#444" stroke-width="1"/><line x1="364.78" y1="169.0" x2="364.78" y2="170.5" stroke="#444" stroke-width="1"/><line x1="372.12" y1="169.0" x2="372.12" y2="170.5" stroke="#444" stroke-width="1"/><line x1="377.81" y1="169.0" x2="377.81" y2="170.5" stroke="#444" stroke-width="1"/><line x1="382.47" y1="169.0" x2="382.47" y2="170.5" stroke="#444" stroke-width="1"/><line x1="386.40" y1="169.0" x2="386.40" y2="170.5" stroke="#444" stroke-width="1"/><line x1="389.81" y1="169.0" x2="389.81" y2="170.5" stroke="#444" stroke-width="1"/><line x1="392.81" y1="169.0" x2="392.81" y2="170.5" stroke="#444" stroke-width="1"/><line x1="395.50" y1="169.0" x2="395.50" y2="170.8" stroke="#444" stroke-width="1"/><line x1="413.19" y1="169.0" x2="413.19" y2="170.5" stroke="#444" stroke-width="1"/><line x1="423.53" y1="169.0" x2="423.53" y2="170.5" stroke="#444" stroke-width="1"/><line x1="430.87" y1="169.0" x2="430.87" y2="170.5" stroke="#444" stroke-width="1"/><line x1="436.56" y1="169.0" x2="436.56" y2="170.5" stroke="#444" stroke-width="1"/><line x1="441.22" y1="169.0" x2="441.22" y2="170.5" stroke="#444" stroke-width="1"/><line x1="445.15" y1="169.0" x2="445.15" y2="170.5" stroke="#444" stroke-width="1"/><line x1="448.56" y1="169.0" x2="448.56" y2="170.5" stroke="#444" stroke-width="1"/><line x1="451.56" y1="169.0" x2="451.56" y2="170.5" stroke="#444" stroke-width="1"/><line x1="454.25" y1="169.0" x2="454.25" y2="170.8" stroke="#444" stroke-width="1"/><line x1="471.94" y1="169.0" x2="471.94" y2="170.5" stroke="#444" stroke-width="1"/><line x1="482.28" y1="169.0" x2="482.28" y2="170.5" stroke="#444" stroke-width="1"/><line x1="489.62" y1="169.0" x2="489.62" y2="170.5" stroke="#444" stroke-width="1"/><line x1="495.31" y1="169.0" x2="495.31" y2="170.5" stroke="#444" stroke-width="1"/><line x1="499.97" y1="169.0" x2="499.97" y2="170.5" stroke="#444" stroke-width="1"/><line x1="503.90" y1="169.0" x2="503.90" y2="170.5" stroke="#444" stroke-width="1"/><line x1="507.31" y1="169.0" x2="507.31" y2="170.5" stroke="#444" stroke-width="1"/><line x1="510.31" y1="169.0" x2="510.31" y2="170.5" stroke="#444" stroke-width="1"/><line x1="513.0" y1="168.5" x2="513.0" y2="171.0" stroke="#444" stroke-width="1"/><text x="274.40" y="181.6" font-size="7" fill="#333">10<tspan font-size="6.6" dy="-3.8">0</tspan></text><text x="333.15" y="181.6" font-size="7" fill="#333">10<tspan font-size="6.6" dy="-3.8">1</tspan></text><text x="391.90" y="181.6" font-size="7" fill="#333">10<tspan font-size="6.6" dy="-3.8">2</tspan></text><text x="450.65" y="181.6" font-size="7" fill="#333">10<tspan font-size="6.6" dy="-3.8">3</tspan></text><text x="509.40" y="181.6" font-size="7" fill="#333">10<tspan font-size="6.6" dy="-3.8">4</tspan></text><line x1="275.5" y1="169.00" x2="278.0" y2="169.00" stroke="#555" stroke-width="1"/><text transform="translate(274.2,169.00) rotate(-90)" font-size="7" fill="#444" text-anchor="middle">0</text><line x1="276.5" y1="163.50" x2="278.0" y2="163.50" stroke="#777" stroke-width="0.8"/><line x1="276.5" y1="158.00" x2="278.0" y2="158.00" stroke="#777" stroke-width="0.8"/><line x1="276.5" y1="152.50" x2="278.0" y2="152.50" stroke="#777" stroke-width="0.8"/><line x1="276.5" y1="147.00" x2="278.0" y2="147.00" stroke="#777" stroke-width="0.8"/><line x1="275.5" y1="141.50" x2="278.0" y2="141.50" stroke="#555" stroke-width="1"/><text transform="translate(274.2,141.50) rotate(-90)" font-size="7" fill="#444" text-anchor="middle">80</text><line x1="276.5" y1="136.00" x2="278.0" y2="136.00" stroke="#777" stroke-width="0.8"/><line x1="276.5" y1="130.50" x2="278.0" y2="130.50" stroke="#777" stroke-width="0.8"/><line x1="276.5" y1="125.00" x2="278.0" y2="125.00" stroke="#777" stroke-width="0.8"/><line x1="276.5" y1="119.50" x2="278.0" y2="119.50" stroke="#777" stroke-width="0.8"/><line x1="275.5" y1="114.00" x2="278.0" y2="114.00" stroke="#555" stroke-width="1"/><text transform="translate(274.2,114.00) rotate(-90)" font-size="7" fill="#444" text-anchor="middle">160</text><line x1="276.5" y1="108.50" x2="278.0" y2="108.50" stroke="#777" stroke-width="0.8"/><line x1="276.5" y1="103.00" x2="278.0" y2="103.00" stroke="#777" stroke-width="0.8"/><line x1="276.5" y1="97.50" x2="278.0" y2="97.50" stroke="#777" stroke-width="0.8"/><line x1="276.5" y1="92.00" x2="278.0" y2="92.00" stroke="#777" stroke-width="0.8"/><line x1="275.5" y1="86.50" x2="278.0" y2="86.50" stroke="#555" stroke-width="1"/><text transform="translate(274.2,86.50) rotate(-90)" font-size="7" fill="#444" text-anchor="middle">240</text><line x1="276.5" y1="81.00" x2="278.0" y2="81.00" stroke="#777" stroke-width="0.8"/><line x1="276.5" y1="75.50" x2="278.0" y2="75.50" stroke="#777" stroke-width="0.8"/><line x1="276.5" y1="70.00" x2="278.0" y2="70.00" stroke="#777" stroke-width="0.8"/><line x1="276.5" y1="64.50" x2="278.0" y2="64.50" stroke="#777" stroke-width="0.8"/><line x1="275.5" y1="59.00" x2="278.0" y2="59.00" stroke="#555" stroke-width="1"/><text transform="translate(274.2,59.00) rotate(-90)" font-size="7" fill="#444" text-anchor="middle">320</text><line x1="276.5" y1="53.50" x2="278.0" y2="53.50" stroke="#777" stroke-width="0.8"/><line x1="276.5" y1="48.00" x2="278.0" y2="48.00" stroke="#777" stroke-width="0.8"/><line x1="276.5" y1="42.50" x2="278.0" y2="42.50" stroke="#777" stroke-width="0.8"/><line x1="276.5" y1="37.00" x2="278.0" y2="37.00" stroke="#777" stroke-width="0.8"/><line x1="275.5" y1="31.50" x2="278.0" y2="31.50" stroke="#555" stroke-width="1"/><text transform="translate(274.2,31.50) rotate(-90)" font-size="7" fill="#444" text-anchor="middle">400</text><text transform="translate(268.8,17.7) scale(0.96,1.0)" font-size="25" font-weight="bold" fill="#000">B</text><text x="335.0" y="194.8" font-size="12.25" font-weight="normal" fill="#111" text-anchor="start" >Fluorescence Intensity</text><path d="M278.00,168.60 L278.62,168.56 L279.25,168.51 L279.88,168.49 L280.50,168.44 L281.12,168.40 L281.75,168.40 L282.38,168.35 L283.00,168.34 L283.54,168.04 L284.09,167.79 L284.63,167.53 L285.17,167.28 L285.71,167.04 L286.26,166.68 L286.80,166.53 L287.27,166.05 L287.74,165.74 L288.21,165.48 L288.68,164.98 L289.15,164.58 L289.62,164.26 L290.09,163.85 L290.56,163.39 L291.03,163.21 L291.50,162.66 L291.98,162.31 L292.45,161.73 L292.93,161.41 L293.40,160.90 L293.88,160.45 L294.35,159.97 L294.82,159.51 L295.30,159.05 L295.71,158.54 L296.12,157.99 L296.54,157.63 L296.95,157.25 L297.36,156.71 L297.78,156.22 L298.19,155.87 L298.60,155.16 L298.74,154.64 L298.89,154.14 L299.03,153.69 L299.18,153.06 L299.32,152.28 L299.46,151.57 L299.61,151.23 L299.75,150.59 L299.89,149.81 L300.04,149.43 L300.18,148.50 L300.32,148.03 L300.47,147.78 L300.61,146.83 L300.76,146.37 L300.90,145.48 L301.05,145.35 L301.20,144.48 L301.35,144.35 L301.50,143.52 L301.65,142.82 L301.80,142.52 L301.95,141.76 L302.10,141.27 L302.25,140.17 L302.40,139.75 L302.55,139.36 L302.70,138.62 L302.85,138.03 L303.00,137.51 L303.15,136.81 L303.30,136.26 L303.40,135.96 L303.50,135.08 L303.60,134.55 L303.70,133.96 L303.80,133.19 L303.90,132.34 L304.00,131.85 L304.10,131.58 L304.20,131.15 L304.30,130.46 L304.40,129.73 L304.50,128.87 L304.60,128.40 L304.70,128.21 L304.80,127.08 L304.90,126.95 L305.00,126.05 L305.10,125.46 L305.20,125.25 L305.28,124.54 L305.36,123.78 L305.44,123.01 L305.52,122.26 L305.60,122.16 L305.68,121.70 L305.75,120.88 L305.83,120.16 L305.91,119.40 L305.99,119.04 L306.07,118.48 L306.15,117.89 L306.23,117.38 L306.31,116.23 L306.39,116.23 L306.47,115.54 L306.55,115.09 L306.62,114.43 L306.70,113.53 L306.78,113.26 L306.86,112.69 L306.94,111.76 L307.02,110.80 L307.10,110.53 L307.22,110.15 L307.34,109.30 L307.46,108.70 L307.58,108.54 L307.70,107.65 L307.82,107.12 L307.93,106.42 L308.05,105.72 L308.17,105.66 L308.29,104.61 L308.41,104.07 L308.53,103.50 L308.65,102.91 L308.77,102.00 L308.89,101.38 L309.01,100.97 L309.13,100.28 L309.25,100.11 L309.37,99.25 L309.48,98.59 L309.60,98.25 L309.72,97.10 L309.84,96.53 L309.96,96.30 L310.08,95.54 L310.20,95.19 L310.25,94.61 L310.30,93.56 L310.36,93.44 L310.41,92.87 L310.46,91.90 L310.51,91.31 L310.56,90.32 L310.62,90.33 L310.67,90.16 L310.72,88.54 L310.77,88.29 L310.82,87.95 L310.88,87.00 L310.93,86.16 L310.98,85.86 L311.03,85.44 L311.08,84.71 L311.14,83.95 L311.19,84.02 L311.24,82.56 L311.29,82.35 L311.34,82.11 L311.40,81.09 L311.45,80.66 L311.50,80.34 L311.57,79.18 L311.65,78.54 L311.73,78.09 L311.80,77.86 L311.88,77.15 L311.95,76.94 L312.02,75.63 L312.10,75.11 L312.18,74.55 L312.25,73.96 L312.32,72.97 L312.40,73.11 L312.48,72.16 L312.55,71.50 L312.62,71.65 L312.70,70.22 L312.77,70.02 L312.85,69.43 L312.93,68.34 L313.00,68.04 L313.02,67.54 L313.05,66.72 L313.07,66.26 L313.10,65.79 L313.12,64.72 L313.15,64.71 L313.18,64.04 L313.20,63.43 L313.22,62.24 L313.25,61.90 L313.27,61.18 L313.30,60.72 L313.32,59.90 L313.35,59.25 L313.38,59.08 L313.40,58.16 L313.54,59.14 L313.68,59.35 L313.82,60.31 L313.93,60.07 L314.03,58.71 L314.13,58.47 L314.24,57.42 L314.31,57.63 L314.38,58.18 L314.45,59.50 L314.52,59.59 L314.59,59.91 L314.66,60.66 L314.77,60.48 L314.87,59.86 L314.98,59.23 L315.08,58.08 L315.29,59.16 L315.50,60.21 L315.64,59.59 L315.78,58.79 L315.92,57.87 L315.96,58.07 L316.00,59.36 L316.03,59.56 L316.07,60.51 L316.11,61.01 L316.15,61.28 L316.19,62.48 L316.23,62.84 L316.26,63.75 L316.30,64.45 L316.34,64.94 L316.38,63.92 L316.41,63.60 L316.45,63.08 L316.48,62.65 L316.52,62.76 L316.55,61.59 L316.59,60.57 L316.62,60.08 L316.66,59.15 L316.69,59.02 L316.73,58.32 L316.76,58.12 L316.79,58.45 L316.81,59.12 L316.84,60.33 L316.87,60.03 L316.89,60.51 L316.92,61.90 L316.94,62.06 L316.97,62.73 L317.00,63.26 L317.02,63.86 L317.05,64.79 L317.08,64.98 L317.10,65.78 L317.13,65.95 L317.15,66.78 L317.18,67.93 L317.20,66.86 L317.22,65.82 L317.24,65.32 L317.26,65.17 L317.29,64.65 L317.31,63.65 L317.33,63.03 L317.35,62.06 L317.37,61.77 L317.39,60.99 L317.41,60.25 L317.43,59.94 L317.45,59.38 L317.47,58.99 L317.50,58.51 L317.52,57.44 L317.54,56.71 L317.56,56.80 L317.58,55.86 L317.60,55.16 L317.64,55.52 L317.67,56.13 L317.71,56.48 L317.74,57.34 L317.78,58.00 L317.81,58.76 L317.85,59.46 L317.88,59.56 L317.92,60.80 L317.95,60.99 L317.99,61.74 L318.02,63.22 L318.07,61.92 L318.11,61.83 L318.16,61.17 L318.21,59.97 L318.25,59.72 L318.30,58.56 L318.35,58.09 L318.39,57.74 L318.44,57.83 L318.49,57.86 L318.55,58.40 L318.60,58.89 L318.65,59.51 L318.70,60.64 L318.76,61.10 L318.81,61.23 L318.86,62.36 L318.90,61.44 L318.94,60.23 L318.97,60.34 L319.01,59.13 L319.05,58.68 L319.09,58.36 L319.13,57.07 L319.17,56.27 L319.20,56.30 L319.24,54.98 L319.28,55.57 L319.32,56.02 L319.36,55.91 L319.39,56.72 L319.43,57.49 L319.47,57.95 L319.51,58.91 L319.55,59.42 L319.59,59.86 L319.62,60.67 L319.66,61.00 L319.70,61.83 L319.77,61.71 L319.84,60.06 L319.91,59.86 L319.98,58.87 L320.05,59.09 L320.12,57.56 L320.15,58.26 L320.18,59.30 L320.21,59.84 L320.24,60.70 L320.27,61.16 L320.30,61.23 L320.33,62.38 L320.36,62.65 L320.39,63.06 L320.42,63.96 L320.45,64.73 L320.48,65.21 L320.51,66.04 L320.54,66.62 L320.57,66.33 L320.60,65.58 L320.62,64.62 L320.65,63.97 L320.68,63.04 L320.71,62.88 L320.74,62.81 L320.76,61.66 L320.79,61.06 L320.82,60.07 L320.85,60.17 L320.88,58.94 L320.90,59.08 L320.93,57.58 L320.96,57.06 L321.03,58.16 L321.10,58.77 L321.17,59.70 L321.24,60.17 L321.31,61.12 L321.38,61.46 L321.46,61.65 L321.55,60.60 L321.63,59.86 L321.72,59.17 L321.80,58.28 L321.84,58.90 L321.89,59.38 L321.93,60.00 L321.97,61.05 L322.01,61.26 L322.06,61.99 L322.10,62.21 L322.14,63.32 L322.19,63.52 L322.23,64.81 L322.27,64.10 L322.31,65.15 L322.36,66.64 L322.40,66.80 L322.44,66.82 L322.49,67.71 L322.53,68.26 L322.57,68.80 L322.61,69.21 L322.66,70.57 L322.70,70.88 L322.74,71.53 L322.79,72.23 L322.83,72.33 L322.87,73.16 L322.91,74.16 L322.96,74.94 L323.00,75.00 L323.09,75.82 L323.19,76.36 L323.28,76.55 L323.38,77.54 L323.47,78.28 L323.56,78.56 L323.66,79.48 L323.75,79.94 L323.84,80.29 L323.94,81.16 L324.03,81.78 L324.12,82.72 L324.22,82.69 L324.31,83.84 L324.41,84.59 L324.50,85.17 L324.62,85.82 L324.74,85.90 L324.86,86.83 L324.98,87.31 L325.09,88.72 L325.21,88.80 L325.33,89.21 L325.45,89.85 L325.57,90.55 L325.69,91.48 L325.81,91.87 L325.92,92.67 L326.04,93.44 L326.16,93.64 L326.28,94.43 L326.40,94.90 L326.48,95.43 L326.56,95.85 L326.64,96.99 L326.72,97.13 L326.80,98.09 L326.88,98.73 L326.97,99.46 L327.05,99.71 L327.13,100.48 L327.21,100.58 L327.29,101.61 L327.37,102.27 L327.45,103.28 L327.53,103.41 L327.61,104.27 L327.69,104.69 L327.77,105.45 L327.85,106.01 L327.93,106.62 L328.02,106.79 L328.10,107.92 L328.18,108.12 L328.26,109.12 L328.34,109.78 L328.42,110.00 L328.50,110.28 L328.58,111.19 L328.67,111.78 L328.75,112.18 L328.83,112.92 L328.92,113.52 L329.00,114.46 L329.08,115.18 L329.17,115.82 L329.25,115.90 L329.33,116.60 L329.42,117.37 L329.50,117.59 L329.58,118.34 L329.67,119.48 L329.75,119.70 L329.83,120.12 L329.92,120.96 L330.00,121.45 L330.08,121.93 L330.17,122.47 L330.25,123.01 L330.33,123.99 L330.42,124.47 L330.50,125.21 L330.53,125.50 L330.56,126.17 L330.59,126.67 L330.62,127.37 L330.65,128.00 L330.67,128.56 L330.70,129.08 L330.73,129.91 L330.76,130.50 L330.79,130.79 L330.82,131.89 L330.85,132.01 L330.88,132.57 L330.91,133.38 L330.94,133.80 L330.96,134.91 L330.99,135.31 L331.02,135.61 L331.05,136.59 L331.08,137.05 L331.11,137.93 L331.14,138.54 L331.17,139.26 L331.20,139.71 L331.23,140.19 L331.25,141.00 L331.28,141.81 L331.31,141.86 L331.34,142.44 L331.37,143.42 L331.40,143.61 L331.50,144.38 L331.59,145.25 L331.69,145.86 L331.78,146.34 L331.88,147.07 L331.97,147.76 L332.06,148.02 L332.16,148.74 L332.25,149.37 L332.35,149.95 L332.44,150.75 L332.54,151.14 L332.63,151.84 L332.73,152.50 L332.82,153.00 L332.92,153.59 L333.01,154.28 L333.11,154.93 L333.20,155.64 L333.30,156.15 L333.47,156.72 L333.65,157.46 L333.82,157.78 L333.99,158.43 L334.16,158.90 L334.34,159.71 L334.51,160.37 L334.68,160.93 L334.85,161.55 L335.03,162.02 L335.20,162.78 L335.60,163.25 L336.00,163.84 L336.40,164.31 L336.80,164.95 L337.20,165.35 L337.60,165.98 L338.00,166.47 L338.56,166.71 L339.11,166.99 L339.67,167.22 L340.22,167.43 L340.78,167.70 L341.33,167.91 L341.89,168.13 L342.44,168.34 L343.00,168.60 L343.60,168.60 L344.20,168.60 L344.80,168.60 L345.40,168.60 L346.00,168.60 L346.60,168.60 L347.20,168.60 L347.81,168.60 L348.41,168.60 L349.01,168.60 L349.61,168.60 L350.21,168.60 L350.81,168.60 L351.41,168.60 L352.01,168.60 L352.61,168.60 L353.21,168.60 L353.81,168.60 L354.41,168.60 L355.01,168.60 L355.61,168.60 L356.22,168.60 L356.82,168.60 L357.42,168.60 L358.02,168.60 L358.62,168.60 L359.22,168.60 L359.82,168.60 L360.42,168.60 L361.02,168.60 L361.62,168.60 L362.22,168.60 L362.82,168.60 L363.42,168.60 L364.02,168.60 L364.63,168.60 L365.23,168.60 L365.83,168.60 L366.43,168.60 L367.03,168.60 L367.63,168.60 L368.23,168.60 L368.83,168.60 L369.43,168.60 L370.03,168.60 L370.63,168.60 L371.23,168.60 L371.83,168.60 L372.43,168.60 L373.04,168.60 L373.64,168.60 L374.24,168.60 L374.84,168.60 L375.44,168.60 L376.04,168.60 L376.64,168.60 L377.24,168.60 L377.84,168.60 L378.44,168.60 L379.04,168.60 L379.64,168.60 L380.24,168.60 L380.84,168.60 L381.45,168.60 L382.05,168.60 L382.65,168.60 L383.25,168.60 L383.85,168.60 L384.45,168.60 L385.05,168.60 L385.65,168.60 L386.25,168.60 L386.85,168.60 L387.45,168.60 L388.05,168.60 L388.65,168.60 L389.25,168.60 L389.86,168.60 L390.46,168.60 L391.06,168.60 L391.66,168.60 L392.26,168.60 L392.86,168.60 L393.46,168.60 L394.06,168.60 L394.66,168.60 L395.26,168.60 L395.86,168.60 L396.46,168.60 L397.06,168.60 L397.66,168.60 L398.27,168.60 L398.87,168.60 L399.47,168.60 L400.07,168.60 L400.67,168.60 L401.27,168.60 L401.87,168.60 L402.47,168.60 L403.07,168.60 L403.67,168.60 L404.27,168.60 L404.87,168.60 L405.47,168.60 L406.07,168.60 L406.67,168.60 L407.28,168.60 L407.88,168.60 L408.48,168.60 L409.08,168.60 L409.68,168.60 L410.28,168.60 L410.88,168.60 L411.48,168.60 L412.08,168.60 L412.68,168.60 L413.28,168.60 L413.88,168.60 L414.48,168.60 L415.08,168.60 L415.69,168.60 L416.29,168.60 L416.89,168.60 L417.49,168.60 L418.09,168.60 L418.69,168.60 L419.29,168.60 L419.89,168.60 L420.49,168.60 L421.09,168.60 L421.69,168.60 L422.29,168.60 L422.89,168.60 L423.49,168.60 L424.10,168.60 L424.70,168.60 L425.30,168.60 L425.90,168.60 L426.50,168.60 L427.10,168.60 L427.70,168.60 L428.30,168.60 L428.90,168.60 L429.50,168.60 L430.10,168.60 L430.70,168.60 L431.30,168.60 L431.90,168.60 L432.51,168.60 L433.11,168.60 L433.71,168.60 L434.31,168.60 L434.91,168.60 L435.51,168.60 L436.11,168.60 L436.71,168.60 L437.31,168.60 L437.91,168.60 L438.51,168.60 L439.11,168.60 L439.71,168.60 L440.31,168.60 L440.92,168.60 L441.52,168.60 L442.12,168.60 L442.72,168.60 L443.32,168.60 L443.92,168.60 L444.52,168.60 L445.12,168.60 L445.72,168.60 L446.32,168.60 L446.92,168.60 L447.52,168.60 L448.12,168.60 L448.72,168.60 L449.33,168.60 L449.93,168.60 L450.53,168.60 L451.13,168.60 L451.73,168.60 L452.33,168.60 L452.93,168.60 L453.53,168.60 L454.13,168.60 L454.73,168.60 L455.33,168.60 L455.93,168.60 L456.53,168.60 L457.13,168.60 L457.73,168.60 L458.34,168.60 L458.94,168.60 L459.54,168.60 L460.14,168.60 L460.74,168.60 L461.34,168.60 L461.94,168.60 L462.54,168.60 L463.14,168.60 L463.74,168.60 L464.34,168.60 L464.94,168.60 L465.54,168.60 L466.14,168.60 L466.75,168.60 L467.35,168.60 L467.95,168.60 L468.55,168.60 L469.15,168.60 L469.75,168.60 L470.35,168.60 L470.95,168.60 L471.55,168.60 L472.15,168.60 L472.75,168.60 L473.35,168.60 L473.95,168.60 L474.55,168.60 L475.16,168.60 L475.76,168.60 L476.36,168.60 L476.96,168.60 L477.56,168.60 L478.16,168.60 L478.76,168.60 L479.36,168.60 L479.96,168.60 L480.56,168.60 L481.16,168.60 L481.76,168.60 L482.36,168.60 L482.96,168.60 L483.57,168.60 L484.17,168.60 L484.77,168.60 L485.37,168.60 L485.97,168.60 L486.57,168.60 L487.17,168.60 L487.77,168.60 L488.37,168.60 L488.97,168.60 L489.57,168.60 L490.17,168.60 L490.77,168.60 L491.37,168.60 L491.98,168.60 L492.58,168.60 L493.18,168.60 L493.78,168.60 L494.38,168.60 L494.98,168.60 L495.58,168.60 L496.18,168.60 L496.78,168.60 L497.38,168.60 L497.98,168.60 L498.58,168.60 L499.18,168.60 L499.78,168.60 L500.39,168.60 L500.99,168.60 L501.59,168.60 L502.19,168.60 L502.79,168.60 L503.39,168.60 L503.99,168.60 L504.59,168.60 L505.19,168.60 L505.79,168.60 L506.39,168.60 L506.99,168.60 L507.59,168.60 L508.19,168.60 L508.80,168.60 L509.40,168.60 L510.00,168.60 L510.60,168.60 L511.20,168.60 L511.80,168.60 L512.40,168.60 L513.00,168.60" fill="none" stroke="#4a4a4a" stroke-width="1.0" stroke-linejoin="round" /><path d="M278.00,168.60 L278.60,168.60 L279.20,168.60 L279.80,168.60 L280.40,168.60 L281.00,168.60 L281.60,168.60 L282.20,168.60 L282.80,168.60 L283.40,168.60 L284.00,168.60 L284.60,168.60 L285.20,168.60 L285.80,168.60 L286.40,168.60 L287.00,168.60 L287.60,168.60 L288.20,168.60 L288.80,168.60 L289.40,168.60 L290.00,168.60 L290.64,168.45 L291.29,168.28 L291.93,168.13 L292.57,168.02 L293.21,167.81 L293.86,167.64 L294.50,167.44 L295.00,167.12 L295.50,166.86 L296.00,166.57 L296.50,166.14 L297.00,165.78 L297.50,165.50 L298.00,165.15 L298.50,164.79 L299.00,164.45 L299.50,164.05 L300.00,163.79 L300.50,163.38 L301.00,162.79 L301.38,162.54 L301.75,162.12 L302.12,161.71 L302.50,161.00 L302.88,160.25 L303.25,160.01 L303.62,159.39 L304.00,159.17 L304.38,158.54 L304.75,157.97 L305.12,157.50 L305.50,157.10 L305.88,156.33 L306.25,155.80 L306.62,155.53 L307.00,155.07 L307.24,154.38 L307.48,153.80 L307.72,153.65 L307.96,152.71 L308.20,152.07 L308.43,151.51 L308.67,150.81 L308.91,150.37 L309.15,149.97 L309.39,149.12 L309.63,148.69 L309.87,148.23 L310.11,147.46 L310.35,147.15 L310.59,146.28 L310.83,145.93 L311.07,145.14 L311.30,145.11 L311.54,144.06 L311.78,143.35 L312.02,143.05 L312.26,142.46 L312.50,142.14 L312.64,141.13 L312.77,140.74 L312.91,140.16 L313.05,139.42 L313.19,138.89 L313.32,138.74 L313.46,137.72 L313.60,137.58 L313.73,136.86 L313.87,135.99 L314.01,135.35 L314.14,134.94 L314.28,134.31 L314.42,133.91 L314.56,132.99 L314.69,132.67 L314.83,132.03 L314.97,131.87 L315.10,130.88 L315.24,130.38 L315.38,129.56 L315.51,129.24 L315.65,128.41 L315.79,128.09 L315.93,127.01 L316.06,126.25 L316.20,125.90 L316.25,125.17 L316.31,124.54 L316.36,124.19 L316.41,123.63 L316.47,123.31 L316.52,122.45 L316.57,121.56 L316.63,120.73 L316.68,120.92 L316.73,120.23 L316.79,119.63 L316.84,118.81 L316.90,117.85 L316.95,117.30 L317.00,117.09 L317.06,116.39 L317.11,115.55 L317.16,115.47 L317.22,114.45 L317.27,114.29 L317.32,112.91 L317.38,112.64 L317.43,112.25 L317.48,111.64 L317.54,111.49 L317.59,110.47 L317.64,109.69 L317.70,109.01 L317.75,108.66 L317.80,108.14 L317.86,106.93 L317.91,106.32 L317.97,105.97 L318.02,105.56 L318.07,104.48 L318.13,104.02 L318.18,103.39 L318.23,102.97 L318.29,102.16 L318.34,102.12 L318.39,100.81 L318.45,100.30 L318.50,100.15 L318.55,99.49 L318.61,98.65 L318.66,98.30 L318.71,97.66 L318.76,97.39 L318.81,96.74 L318.87,96.35 L318.92,95.06 L318.97,94.71 L319.02,94.76 L319.08,93.42 L319.13,92.43 L319.18,92.21 L319.24,91.75 L319.29,91.60 L319.34,90.35 L319.39,89.56 L319.44,89.97 L319.50,88.86 L319.55,88.02 L319.60,87.68 L319.66,86.26 L319.71,86.91 L319.76,84.80 L319.81,84.68 L319.87,84.08 L319.92,83.42 L319.97,83.54 L320.02,83.19 L320.08,81.82 L320.13,81.89 L320.18,81.17 L320.23,79.72 L320.29,79.45 L320.34,78.87 L320.39,78.73 L320.44,77.38 L320.50,77.19 L320.55,76.69 L320.60,76.33 L320.69,75.68 L320.78,74.65 L320.88,73.78 L320.97,73.82 L321.06,72.84 L321.15,72.15 L321.25,72.28 L321.34,71.04 L321.43,70.31 L321.52,70.59 L321.62,68.86 L321.71,68.18 L321.80,68.43 L321.89,67.27 L321.98,66.40 L322.08,66.24 L322.17,65.57 L322.26,65.42 L322.35,64.01 L322.45,63.21 L322.54,63.04 L322.63,62.55 L322.72,61.01 L322.82,61.92 L322.91,60.84 L323.00,59.63 L323.12,59.28 L323.23,58.87 L323.35,58.11 L323.46,57.83 L323.57,56.64 L323.69,56.74 L323.81,55.99 L323.92,55.44 L324.04,55.08 L324.15,53.78 L324.26,54.02 L324.38,52.41 L324.50,52.16 L324.61,52.13 L324.73,50.79 L324.84,50.21 L324.95,49.51 L325.07,48.83 L325.19,48.32 L325.30,48.34 L325.45,46.81 L325.60,46.67 L325.75,45.60 L325.90,45.33 L326.05,44.96 L326.20,44.19 L326.35,42.65 L326.50,42.05 L327.00,43.56 L327.50,42.96 L328.00,43.60 L328.10,43.79 L328.20,45.16 L328.30,45.98 L328.40,46.64 L328.50,46.96 L328.60,48.13 L328.70,48.09 L328.80,49.57 L328.90,48.47 L329.00,49.81 L329.06,50.30 L329.12,51.21 L329.18,50.99 L329.24,52.42 L329.30,52.54 L329.36,53.31 L329.42,53.92 L329.48,54.47 L329.54,55.59 L329.60,55.07 L329.66,56.37 L329.72,57.45 L329.78,57.54 L329.84,58.00 L329.90,59.88 L329.96,59.66 L330.02,60.40 L330.08,61.00 L330.14,61.79 L330.20,62.72 L330.26,62.59 L330.32,63.15 L330.38,63.92 L330.44,64.15 L330.50,64.61 L330.57,65.76 L330.64,66.27 L330.72,67.24 L330.79,67.20 L330.86,68.10 L330.93,67.98 L331.00,68.97 L331.08,69.32 L331.15,70.18 L331.22,71.07 L331.29,71.85 L331.36,72.69 L331.44,72.61 L331.51,72.97 L331.58,74.31 L331.65,75.45 L331.72,75.07 L331.80,75.63 L331.87,76.17 L331.94,77.45 L332.01,77.55 L332.08,77.77 L332.16,79.56 L332.23,79.87 L332.30,79.80 L332.35,80.53 L332.40,81.39 L332.45,81.70 L332.51,82.44 L332.56,83.76 L332.61,83.79 L332.66,84.49 L332.71,84.66 L332.76,85.12 L332.82,86.23 L332.87,86.84 L332.92,87.33 L332.97,88.00 L333.02,88.47 L333.07,88.90 L333.12,88.95 L333.18,90.60 L333.23,91.10 L333.28,91.63 L333.33,92.19 L333.38,92.69 L333.43,93.42 L333.48,94.05 L333.54,94.50 L333.59,95.70 L333.64,95.98 L333.69,96.76 L333.74,96.22 L333.79,97.96 L333.85,98.92 L333.90,98.16 L333.95,99.16 L334.00,99.35 L334.05,100.58 L334.09,101.21 L334.14,101.92 L334.19,103.13 L334.23,103.30 L334.28,103.47 L334.33,104.18 L334.37,104.71 L334.42,104.99 L334.47,106.21 L334.51,106.55 L334.56,107.50 L334.60,108.05 L334.65,108.27 L334.70,109.03 L334.74,109.49 L334.79,110.57 L334.84,111.19 L334.88,111.21 L334.93,112.16 L334.98,112.94 L335.02,113.50 L335.07,114.36 L335.12,115.02 L335.16,115.30 L335.21,115.28 L335.26,116.76 L335.30,116.89 L335.35,117.63 L335.40,117.80 L335.44,119.13 L335.49,119.27 L335.53,119.95 L335.58,120.30 L335.63,121.30 L335.67,122.06 L335.72,122.54 L335.77,123.21 L335.81,123.50 L335.86,124.20 L335.91,124.61 L335.95,124.82 L336.00,125.91 L336.06,126.67 L336.12,127.61 L336.18,127.81 L336.25,128.97 L336.31,128.68 L336.37,129.52 L336.43,130.08 L336.49,130.68 L336.55,131.47 L336.62,132.54 L336.68,132.62 L336.74,133.41 L336.80,134.27 L336.86,134.73 L336.92,135.29 L336.98,135.99 L337.05,136.72 L337.11,137.13 L337.17,137.99 L337.23,138.45 L337.29,139.22 L337.35,139.21 L337.42,140.16 L337.48,141.23 L337.54,141.45 L337.60,142.04 L337.71,142.44 L337.82,142.91 L337.93,143.86 L338.04,144.36 L338.15,144.94 L338.25,145.70 L338.36,145.96 L338.47,146.86 L338.58,147.69 L338.69,148.04 L338.80,148.62 L338.91,148.79 L339.02,149.78 L339.13,150.65 L339.24,151.01 L339.35,151.37 L339.45,151.95 L339.56,152.67 L339.67,153.34 L339.78,153.65 L339.89,154.42 L340.00,155.02 L340.24,155.37 L340.47,156.01 L340.71,156.65 L340.94,157.38 L341.18,157.95 L341.41,158.41 L341.65,158.96 L341.89,159.51 L342.12,160.15 L342.36,160.80 L342.59,161.29 L342.83,161.87 L343.06,162.39 L343.30,162.86 L343.77,163.44 L344.24,164.09 L344.71,164.36 L345.18,164.73 L345.65,165.20 L346.12,165.70 L346.59,166.11 L347.06,166.65 L347.53,166.99 L348.00,167.46 L348.67,167.72 L349.33,167.90 L350.00,168.07 L350.67,168.19 L351.33,168.44 L352.00,168.60 L352.60,168.60 L353.20,168.60 L353.80,168.60 L354.40,168.60 L355.00,168.60 L355.60,168.60 L356.21,168.60 L356.81,168.60 L357.41,168.60 L358.01,168.60 L358.61,168.60 L359.21,168.60 L359.81,168.60 L360.41,168.60 L361.01,168.60 L361.61,168.60 L362.21,168.60 L362.81,168.60 L363.41,168.60 L364.01,168.60 L364.62,168.60 L365.22,168.60 L365.82,168.60 L366.42,168.60 L367.02,168.60 L367.62,168.60 L368.22,168.60 L368.82,168.60 L369.42,168.60 L370.02,168.60 L370.62,168.60 L371.22,168.60 L371.82,168.60 L372.43,168.60 L373.03,168.60 L373.63,168.60 L374.23,168.60 L374.83,168.60 L375.43,168.60 L376.03,168.60 L376.63,168.60 L377.23,168.60 L377.83,168.60 L378.43,168.60 L379.03,168.60 L379.63,168.60 L380.24,168.60 L380.84,168.60 L381.44,168.60 L382.04,168.60 L382.64,168.60 L383.24,168.60 L383.84,168.60 L384.44,168.60 L385.04,168.60 L385.64,168.60 L386.24,168.60 L386.84,168.60 L387.44,168.60 L388.04,168.60 L388.65,168.60 L389.25,168.60 L389.85,168.60 L390.45,168.60 L391.05,168.60 L391.65,168.60 L392.25,168.60 L392.85,168.60 L393.45,168.60 L394.05,168.60 L394.65,168.60 L395.25,168.60 L395.85,168.60 L396.46,168.60 L397.06,168.60 L397.66,168.60 L398.26,168.60 L398.86,168.60 L399.46,168.60 L400.06,168.60 L400.66,168.60 L401.26,168.60 L401.86,168.60 L402.46,168.60 L403.06,168.60 L403.66,168.60 L404.26,168.60 L404.87,168.60 L405.47,168.60 L406.07,168.60 L406.67,168.60 L407.27,168.60 L407.87,168.60 L408.47,168.60 L409.07,168.60 L409.67,168.60 L410.27,168.60 L410.87,168.60 L411.47,168.60 L412.07,168.60 L412.68,168.60 L413.28,168.60 L413.88,168.60 L414.48,168.60 L415.08,168.60 L415.68,168.60 L416.28,168.60 L416.88,168.60 L417.48,168.60 L418.08,168.60 L418.68,168.60 L419.28,168.60 L419.88,168.60 L420.49,168.60 L421.09,168.60 L421.69,168.60 L422.29,168.60 L422.89,168.60 L423.49,168.60 L424.09,168.60 L424.69,168.60 L425.29,168.60 L425.89,168.60 L426.49,168.60 L427.09,168.60 L427.69,168.60 L428.29,168.60 L428.90,168.60 L429.50,168.60 L430.10,168.60 L430.70,168.60 L431.30,168.60 L431.90,168.60 L432.50,168.60 L433.10,168.60 L433.70,168.60 L434.30,168.60 L434.90,168.60 L435.50,168.60 L436.10,168.60 L436.71,168.60 L437.31,168.60 L437.91,168.60 L438.51,168.60 L439.11,168.60 L439.71,168.60 L440.31,168.60 L440.91,168.60 L441.51,168.60 L442.11,168.60 L442.71,168.60 L443.31,168.60 L443.91,168.60 L444.51,168.60 L445.12,168.60 L445.72,168.60 L446.32,168.60 L446.92,168.60 L447.52,168.60 L448.12,168.60 L448.72,168.60 L449.32,168.60 L449.92,168.60 L450.52,168.60 L451.12,168.60 L451.72,168.60 L452.32,168.60 L452.93,168.60 L453.53,168.60 L454.13,168.60 L454.73,168.60 L455.33,168.60 L455.93,168.60 L456.53,168.60 L457.13,168.60 L457.73,168.60 L458.33,168.60 L458.93,168.60 L459.53,168.60 L460.13,168.60 L460.74,168.60 L461.34,168.60 L461.94,168.60 L462.54,168.60 L463.14,168.60 L463.74,168.60 L464.34,168.60 L464.94,168.60 L465.54,168.60 L466.14,168.60 L466.74,168.60 L467.34,168.60 L467.94,168.60 L468.54,168.60 L469.15,168.60 L469.75,168.60 L470.35,168.60 L470.95,168.60 L471.55,168.60 L472.15,168.60 L472.75,168.60 L473.35,168.60 L473.95,168.60 L474.55,168.60 L475.15,168.60 L475.75,168.60 L476.35,168.60 L476.96,168.60 L477.56,168.60 L478.16,168.60 L478.76,168.60 L479.36,168.60 L479.96,168.60 L480.56,168.60 L481.16,168.60 L481.76,168.60 L482.36,168.60 L482.96,168.60 L483.56,168.60 L484.16,168.60 L484.76,168.60 L485.37,168.60 L485.97,168.60 L486.57,168.60 L487.17,168.60 L487.77,168.60 L488.37,168.60 L488.97,168.60 L489.57,168.60 L490.17,168.60 L490.77,168.60 L491.37,168.60 L491.97,168.60 L492.57,168.60 L493.18,168.60 L493.78,168.60 L494.38,168.60 L494.98,168.60 L495.58,168.60 L496.18,168.60 L496.78,168.60 L497.38,168.60 L497.98,168.60 L498.58,168.60 L499.18,168.60 L499.78,168.60 L500.38,168.60 L500.99,168.60 L501.59,168.60 L502.19,168.60 L502.79,168.60 L503.39,168.60 L503.99,168.60 L504.59,168.60 L505.19,168.60 L505.79,168.60 L506.39,168.60 L506.99,168.60 L507.59,168.60 L508.19,168.60 L508.79,168.60 L509.40,168.60 L510.00,168.60 L510.60,168.60 L511.20,168.60 L511.80,168.60 L512.40,168.60 L513.00,168.60" fill="none" stroke="#909090" stroke-width="1.0" stroke-linejoin="round" stroke-dasharray="1.2,1.2"/><path d="M278.00,168.60 L278.60,168.60 L279.20,168.60 L279.80,168.60 L280.40,168.60 L281.00,168.60 L281.60,168.60 L282.20,168.60 L282.80,168.60 L283.40,168.60 L284.00,168.60 L284.60,168.60 L285.20,168.60 L285.80,168.60 L286.40,168.60 L287.00,168.60 L287.60,168.60 L288.20,168.60 L288.80,168.60 L289.40,168.60 L290.00,168.60 L290.57,168.32 L291.13,168.05 L291.70,167.81 L292.27,167.53 L292.83,167.32 L293.40,167.04 L293.99,166.75 L294.57,166.42 L295.16,166.16 L295.75,165.86 L296.34,165.48 L296.93,165.24 L297.51,164.91 L298.10,164.57 L298.57,164.18 L299.04,163.96 L299.51,163.35 L299.98,162.97 L300.45,162.81 L300.92,162.19 L301.39,161.84 L301.86,161.44 L302.33,161.11 L302.80,160.75 L303.12,160.33 L303.43,159.76 L303.75,159.21 L304.07,158.45 L304.38,157.99 L304.70,157.47 L305.02,157.00 L305.33,156.49 L305.65,155.93 L305.97,155.45 L306.28,154.83 L306.60,154.34 L306.82,153.63 L307.03,152.87 L307.25,152.45 L307.46,152.08 L307.68,151.35 L307.89,150.73 L308.11,150.42 L308.32,149.45 L308.54,148.92 L308.75,148.48 L308.97,148.02 L309.18,147.54 L309.40,146.86 L309.53,146.09 L309.65,145.32 L309.78,144.74 L309.91,144.34 L310.03,143.63 L310.16,142.87 L310.29,142.25 L310.41,141.88 L310.54,140.91 L310.67,140.61 L310.79,140.06 L310.92,139.25 L311.05,138.35 L311.17,138.35 L311.30,137.47 L311.43,136.72 L311.57,135.91 L311.70,135.57 L311.83,135.04 L311.97,134.73 L312.10,133.27 L312.23,133.13 L312.37,132.28 L312.50,131.71 L312.63,131.64 L312.77,131.09 L312.90,130.08 L313.03,130.23 L313.17,129.16 L313.30,128.53 L313.43,127.82 L313.57,126.84 L313.70,126.44 L313.83,126.34 L313.97,125.47 L314.10,125.43 L314.20,124.70 L314.30,123.80 L314.40,123.19 L314.50,122.62 L314.60,121.70 L314.70,121.99 L314.80,121.00 L314.90,120.00 L315.00,119.42 L315.10,119.06 L315.20,118.26 L315.30,117.81 L315.40,117.39 L315.50,117.01 L315.60,116.12 L315.70,115.59 L315.80,115.13 L315.90,114.05 L316.00,113.79 L316.10,113.56 L316.20,112.55 L316.30,111.88 L316.40,111.39 L316.50,110.55 L316.58,110.31 L316.66,109.39 L316.74,108.90 L316.82,108.67 L316.90,107.70 L316.98,106.79 L317.07,106.37 L317.15,105.55 L317.23,105.84 L317.31,105.08 L317.39,104.30 L317.47,103.03 L317.55,102.64 L317.63,102.11 L317.71,101.55 L317.79,100.97 L317.87,99.87 L317.95,99.79 L318.03,99.38 L318.12,98.26 L318.20,98.35 L318.28,97.27 L318.36,96.46 L318.44,95.54 L318.52,95.95 L318.60,95.18 L318.73,94.63 L318.86,93.06 L318.99,92.70 L319.12,92.42 L319.25,92.25 L319.38,91.72 L319.51,91.10 L319.64,91.07 L319.76,89.86 L319.89,89.09 L320.02,88.85 L320.15,88.09 L320.28,87.91 L320.41,86.82 L320.54,85.49 L320.67,85.29 L320.80,84.80 L320.93,83.78 L321.05,84.28 L321.18,83.37 L321.31,82.65 L321.43,81.77 L321.56,81.15 L321.69,80.93 L321.81,79.43 L321.94,79.33 L322.07,79.45 L322.19,78.72 L322.32,78.09 L322.45,77.14 L322.57,76.54 L322.70,76.17 L322.72,75.24 L322.74,74.28 L322.76,74.19 L322.78,73.89 L322.80,73.05 L322.82,72.20 L322.83,71.87 L322.85,70.69 L322.87,70.94 L322.89,69.85 L322.91,69.30 L322.93,68.57 L322.95,68.00 L322.97,67.19 L322.99,66.11 L323.01,65.45 L323.03,65.60 L323.05,64.45 L323.07,64.02 L323.08,63.42 L323.10,62.84 L323.12,62.83 L323.14,61.21 L323.16,61.69 L323.18,60.71 L323.20,59.56 L323.23,59.28 L323.25,58.12 L323.28,57.94 L323.31,57.51 L323.33,56.09 L323.36,56.41 L323.39,55.77 L323.41,54.73 L323.44,54.66 L323.47,53.55 L323.49,52.77 L323.52,53.24 L323.55,52.09 L323.57,51.66 L323.60,50.90 L323.77,49.83 L323.94,50.58 L324.11,50.07 L324.28,48.27 L324.44,47.85 L324.61,47.36 L324.78,46.92 L324.95,46.36 L325.12,45.99 L325.29,45.53 L325.46,44.24 L325.62,44.24 L325.79,44.14 L325.96,43.34 L326.13,42.92 L326.30,41.35 L326.38,40.94 L326.46,40.22 L326.55,39.41 L326.63,39.04 L326.71,38.70 L326.79,37.76 L326.87,37.39 L326.95,37.46 L327.04,36.33 L327.12,34.94 L327.20,33.98 L327.22,34.19 L327.23,33.53 L327.25,32.31 L327.27,32.38 L327.28,32.54 L327.30,31.60 L327.32,30.37 L327.33,29.76 L327.35,29.38 L327.37,28.53 L327.38,27.71 L327.40,27.50 L327.45,27.80 L327.50,28.82 L327.55,29.60 L327.60,29.40 L327.65,30.19 L327.70,31.01 L327.75,31.74 L327.80,32.15 L327.85,32.96 L327.90,33.81 L327.95,33.95 L328.00,35.48 L328.12,35.86 L328.23,36.72 L328.35,36.66 L328.46,36.87 L328.58,37.56 L328.69,39.18 L328.81,39.23 L328.92,38.85 L329.04,40.58 L329.15,40.84 L329.27,40.92 L329.38,41.77 L329.50,42.44 L329.54,43.45 L329.58,43.80 L329.62,44.60 L329.65,44.45 L329.69,45.84 L329.73,46.09 L329.77,46.73 L329.81,47.50 L329.85,48.08 L329.88,48.94 L329.92,49.68 L329.96,49.93 L330.00,50.09 L330.04,51.29 L330.08,51.72 L330.12,52.44 L330.15,52.33 L330.19,53.28 L330.23,54.15 L330.27,55.06 L330.31,55.48 L330.35,56.38 L330.38,55.88 L330.42,57.17 L330.46,57.52 L330.50,59.02 L330.54,59.29 L330.58,59.95 L330.61,59.93 L330.65,61.27 L330.69,61.66 L330.73,62.73 L330.77,63.33 L330.80,63.21 L330.84,64.17 L330.88,64.36 L330.92,65.35 L330.96,65.37 L330.99,65.53 L331.03,66.73 L331.07,67.89 L331.11,68.10 L331.14,69.48 L331.18,69.98 L331.22,70.73 L331.26,70.33 L331.30,70.99 L331.33,71.57 L331.37,72.84 L331.41,73.41 L331.45,74.65 L331.49,74.56 L331.52,74.93 L331.56,75.91 L331.60,75.98 L331.67,77.04 L331.74,77.98 L331.81,77.77 L331.88,78.85 L331.95,79.83 L332.03,79.09 L332.10,80.13 L332.17,81.76 L332.24,81.67 L332.31,82.48 L332.38,82.44 L332.45,82.85 L332.52,84.06 L332.59,84.70 L332.66,85.02 L332.74,86.03 L332.81,86.54 L332.88,87.38 L332.95,87.79 L333.02,88.31 L333.09,89.14 L333.16,90.15 L333.23,89.96 L333.30,91.16 L333.37,90.95 L333.45,92.21 L333.52,92.31 L333.59,93.29 L333.66,93.77 L333.73,95.14 L333.80,94.33 L333.83,95.74 L333.86,95.82 L333.89,97.25 L333.92,97.70 L333.95,97.72 L333.98,98.60 L334.02,99.42 L334.05,100.03 L334.08,100.55 L334.11,101.38 L334.14,101.21 L334.17,102.55 L334.20,102.75 L334.23,103.07 L334.26,104.11 L334.29,104.67 L334.32,104.98 L334.35,106.16 L334.38,106.63 L334.42,107.11 L334.45,108.23 L334.48,108.63 L334.51,108.93 L334.54,110.01 L334.57,110.51 L334.60,110.63 L334.65,111.55 L334.70,111.47 L334.75,112.66 L334.80,113.59 L334.85,113.27 L334.90,114.59 L334.95,114.69 L335.00,115.40 L335.05,115.90 L335.10,116.96 L335.15,117.27 L335.20,117.83 L335.25,118.70 L335.30,119.31 L335.35,119.84 L335.40,120.54 L335.45,121.56 L335.50,121.36 L335.55,122.21 L335.60,122.64 L335.65,123.00 L335.70,123.73 L335.75,124.26 L335.80,125.25 L335.85,125.77 L335.90,126.24 L335.96,126.99 L336.02,127.36 L336.07,128.28 L336.13,128.28 L336.19,129.59 L336.25,129.95 L336.30,130.55 L336.36,131.20 L336.42,131.96 L336.48,131.95 L336.53,133.05 L336.59,133.77 L336.65,134.60 L336.71,134.77 L336.77,135.63 L336.82,135.81 L336.88,136.55 L336.94,137.63 L337.00,138.05 L337.05,138.35 L337.11,138.78 L337.17,139.74 L337.23,140.78 L337.28,141.07 L337.34,141.14 L337.40,141.88 L337.50,142.87 L337.61,143.32 L337.71,143.87 L337.82,144.38 L337.92,145.36 L338.02,145.68 L338.13,146.19 L338.23,146.99 L338.33,147.72 L338.44,148.06 L338.54,148.60 L338.65,149.25 L338.75,150.01 L338.85,150.53 L338.96,151.36 L339.06,151.66 L339.17,152.38 L339.27,153.42 L339.37,153.79 L339.48,153.94 L339.58,154.88 L339.68,155.64 L339.79,156.05 L339.89,156.69 L340.00,157.33 L340.10,157.61 L340.43,158.43 L340.75,158.92 L341.08,159.53 L341.40,160.18 L341.73,160.71 L342.05,161.07 L342.38,161.64 L342.70,162.15 L343.02,162.73 L343.35,163.11 L343.68,163.76 L344.00,164.35 L344.50,164.68 L345.00,165.17 L345.50,165.57 L346.00,165.76 L346.50,166.30 L347.00,166.79 L347.50,167.19 L348.00,167.64 L348.67,167.81 L349.33,167.98 L350.00,168.10 L350.67,168.27 L351.33,168.45 L352.00,168.60 L352.60,168.60 L353.20,168.60 L353.80,168.60 L354.40,168.60 L355.00,168.60 L355.60,168.60 L356.21,168.60 L356.81,168.60 L357.41,168.60 L358.01,168.60 L358.61,168.60 L359.21,168.60 L359.81,168.60 L360.41,168.60 L361.01,168.60 L361.61,168.60 L362.21,168.60 L362.81,168.60 L363.41,168.60 L364.01,168.60 L364.62,168.60 L365.22,168.60 L365.82,168.60 L366.42,168.60 L367.02,168.60 L367.62,168.60 L368.22,168.60 L368.82,168.60 L369.42,168.60 L370.02,168.60 L370.62,168.60 L371.22,168.60 L371.82,168.60 L372.43,168.60 L373.03,168.60 L373.63,168.60 L374.23,168.60 L374.83,168.60 L375.43,168.60 L376.03,168.60 L376.63,168.60 L377.23,168.60 L377.83,168.60 L378.43,168.60 L379.03,168.60 L379.63,168.60 L380.24,168.60 L380.84,168.60 L381.44,168.60 L382.04,168.60 L382.64,168.60 L383.24,168.60 L383.84,168.60 L384.44,168.60 L385.04,168.60 L385.64,168.60 L386.24,168.60 L386.84,168.60 L387.44,168.60 L388.04,168.60 L388.65,168.60 L389.25,168.60 L389.85,168.60 L390.45,168.60 L391.05,168.60 L391.65,168.60 L392.25,168.60 L392.85,168.60 L393.45,168.60 L394.05,168.60 L394.65,168.60 L395.25,168.60 L395.85,168.60 L396.46,168.60 L397.06,168.60 L397.66,168.60 L398.26,168.60 L398.86,168.60 L399.46,168.60 L400.06,168.60 L400.66,168.60 L401.26,168.60 L401.86,168.60 L402.46,168.60 L403.06,168.60 L403.66,168.60 L404.26,168.60 L404.87,168.60 L405.47,168.60 L406.07,168.60 L406.67,168.60 L407.27,168.60 L407.87,168.60 L408.47,168.60 L409.07,168.60 L409.67,168.60 L410.27,168.60 L410.87,168.60 L411.47,168.60 L412.07,168.60 L412.68,168.60 L413.28,168.60 L413.88,168.60 L414.48,168.60 L415.08,168.60 L415.68,168.60 L416.28,168.60 L416.88,168.60 L417.48,168.60 L418.08,168.60 L418.68,168.60 L419.28,168.60 L419.88,168.60 L420.49,168.60 L421.09,168.60 L421.69,168.60 L422.29,168.60 L422.89,168.60 L423.49,168.60 L424.09,168.60 L424.69,168.60 L425.29,168.60 L425.89,168.60 L426.49,168.60 L427.09,168.60 L427.69,168.60 L428.29,168.60 L428.90,168.60 L429.50,168.60 L430.10,168.60 L430.70,168.60 L431.30,168.60 L431.90,168.60 L432.50,168.60 L433.10,168.60 L433.70,168.60 L434.30,168.60 L434.90,168.60 L435.50,168.60 L436.10,168.60 L436.71,168.60 L437.31,168.60 L437.91,168.60 L438.51,168.60 L439.11,168.60 L439.71,168.60 L440.31,168.60 L440.91,168.60 L441.51,168.60 L442.11,168.60 L442.71,168.60 L443.31,168.60 L443.91,168.60 L444.51,168.60 L445.12,168.60 L445.72,168.60 L446.32,168.60 L446.92,168.60 L447.52,168.60 L448.12,168.60 L448.72,168.60 L449.32,168.60 L449.92,168.60 L450.52,168.60 L451.12,168.60 L451.72,168.60 L452.32,168.60 L452.93,168.60 L453.53,168.60 L454.13,168.60 L454.73,168.60 L455.33,168.60 L455.93,168.60 L456.53,168.60 L457.13,168.60 L457.73,168.60 L458.33,168.60 L458.93,168.60 L459.53,168.60 L460.13,168.60 L460.74,168.60 L461.34,168.60 L461.94,168.60 L462.54,168.60 L463.14,168.60 L463.74,168.60 L464.34,168.60 L464.94,168.60 L465.54,168.60 L466.14,168.60 L466.74,168.60 L467.34,168.60 L467.94,168.60 L468.54,168.60 L469.15,168.60 L469.75,168.60 L470.35,168.60 L470.95,168.60 L471.55,168.60 L472.15,168.60 L472.75,168.60 L473.35,168.60 L473.95,168.60 L474.55,168.60 L475.15,168.60 L475.75,168.60 L476.35,168.60 L476.96,168.60 L477.56,168.60 L478.16,168.60 L478.76,168.60 L479.36,168.60 L479.96,168.60 L480.56,168.60 L481.16,168.60 L481.76,168.60 L482.36,168.60 L482.96,168.60 L483.56,168.60 L484.16,168.60 L484.76,168.60 L485.37,168.60 L485.97,168.60 L486.57,168.60 L487.17,168.60 L487.77,168.60 L488.37,168.60 L488.97,168.60 L489.57,168.60 L490.17,168.60 L490.77,168.60 L491.37,168.60 L491.97,168.60 L492.57,168.60 L493.18,168.60 L493.78,168.60 L494.38,168.60 L494.98,168.60 L495.58,168.60 L496.18,168.60 L496.78,168.60 L497.38,168.60 L497.98,168.60 L498.58,168.60 L499.18,168.60 L499.78,168.60 L500.38,168.60 L500.99,168.60 L501.59,168.60 L502.19,168.60 L502.79,168.60 L503.39,168.60 L503.99,168.60 L504.59,168.60 L505.19,168.60 L505.79,168.60 L506.39,168.60 L506.99,168.60 L507.59,168.60 L508.19,168.60 L508.79,168.60 L509.40,168.60 L510.00,168.60 L510.60,168.60 L511.20,168.60 L511.80,168.60 L512.40,168.60 L513.00,168.60" fill="none" stroke="#303030" stroke-width="1.2" stroke-linejoin="round" stroke-dasharray="1.4,1.0"/><path d="M278.00,168.60 L278.45,168.60 L278.90,168.50 L279.35,168.60 L279.80,168.25 L280.25,168.60 L280.70,168.60 L281.15,168.60 L281.60,168.34 L282.05,168.60 L282.50,167.65 L282.95,168.09 L283.40,168.60 L283.85,168.59 L284.30,168.60 L284.75,168.15 L285.20,167.41 L285.65,167.54 L286.10,167.55 L286.55,167.75 L287.00,168.52 L287.45,167.65 L287.90,168.23 L288.35,168.60 L288.80,168.09 L289.25,168.60 L289.70,167.73 L290.15,167.89 L290.60,167.36 L291.05,167.76 L291.50,167.67 L291.95,167.70 L292.40,168.58 L292.87,166.84 L293.34,168.60 L293.81,166.94 L294.29,167.11 L294.76,167.94 L295.23,167.22 L295.70,167.56 L296.17,168.08 L296.64,168.25 L297.11,167.52 L297.59,165.84 L298.06,166.86 L298.53,166.75 L299.00,166.84 L299.46,166.93 L299.92,165.38 L300.38,165.40 L300.85,166.03 L301.31,166.64 L301.77,166.26 L302.23,165.68 L302.69,166.04 L303.15,167.04 L303.62,165.84 L304.08,166.00 L304.54,165.93 L305.00,165.90 L305.39,164.72 L305.78,165.71 L306.18,164.64 L306.57,164.75 L306.96,164.35 L307.35,163.87 L307.74,163.45 L308.13,163.05 L308.52,164.66 L308.92,162.59 L309.31,162.84 L309.70,162.91 L310.09,161.93 L310.48,161.55 L310.88,163.07 L311.27,160.59 L311.66,161.68 L312.05,160.77 L312.44,161.01 L312.83,160.80 L313.22,159.77 L313.62,160.39 L314.01,160.15 L314.40,158.11 L314.75,160.23 L315.09,159.24 L315.44,158.40 L315.78,158.95 L316.13,158.16 L316.47,158.47 L316.82,157.27 L317.16,157.66 L317.51,157.96 L317.85,156.64 L318.20,155.24 L318.49,156.51 L318.78,157.30 L319.08,154.66 L319.37,154.51 L319.66,153.63 L319.95,154.04 L320.25,151.83 L320.54,154.69 L320.83,153.61 L321.12,153.08 L321.42,152.32 L321.71,151.10 L322.00,153.59 L322.25,151.39 L322.51,150.82 L322.76,149.61 L323.01,150.08 L323.27,149.85 L323.52,150.73 L323.77,149.13 L324.03,148.37 L324.28,149.68 L324.53,146.49 L324.79,149.83 L325.04,147.03 L325.29,144.61 L325.55,148.28 L325.80,147.15 L326.03,145.59 L326.26,142.83 L326.49,143.22 L326.73,142.55 L326.96,143.98 L327.19,144.26 L327.42,141.68 L327.65,145.77 L327.88,142.08 L328.11,140.97 L328.34,143.43 L328.57,140.64 L328.81,137.64 L329.04,139.55 L329.27,140.03 L329.50,139.95 L329.85,136.96 L330.19,140.04 L330.54,138.77 L330.88,137.07 L331.23,137.01 L331.57,138.65 L331.92,136.65 L332.26,139.07 L332.61,135.26 L332.95,136.45 L333.30,135.17 L333.65,133.06 L333.99,134.57 L334.34,135.56 L334.68,135.18 L335.03,131.43 L335.37,133.56 L335.72,131.76 L336.06,132.36 L336.41,132.82 L336.75,133.68 L337.10,132.40 L337.56,128.34 L338.03,130.07 L338.49,133.83 L338.95,130.48 L339.41,128.32 L339.88,129.34 L340.34,130.93 L340.80,131.24 L341.18,132.09 L341.56,131.06 L341.94,132.78 L342.32,133.14 L342.70,131.24 L343.08,129.96 L343.46,133.53 L343.84,132.25 L344.22,129.12 L344.60,130.36 L345.03,125.11 L345.47,127.74 L345.90,125.88 L346.33,129.41 L346.77,126.75 L347.20,131.51 L347.65,128.59 L348.10,124.02 L348.55,125.95 L349.00,127.10 L349.45,126.33 L349.90,126.20 L350.35,127.88 L350.80,127.92 L351.25,125.77 L351.70,127.34 L352.15,126.58 L352.60,121.75 L353.05,124.58 L353.50,122.37 L353.91,126.05 L354.32,122.19 L354.73,123.22 L355.14,124.36 L355.55,124.58 L355.95,125.07 L356.36,119.98 L356.77,119.57 L357.18,123.56 L357.59,123.95 L358.00,120.69 L358.42,123.58 L358.83,125.05 L359.25,117.88 L359.67,120.73 L360.08,121.35 L360.50,124.92 L360.92,121.52 L361.33,123.53 L361.75,120.48 L362.17,119.70 L362.58,119.55 L363.00,119.31 L363.50,119.03 L364.00,119.44 L364.50,118.94 L365.00,117.01 L365.44,120.18 L365.89,114.47 L366.33,116.75 L366.77,115.24 L367.21,116.42 L367.66,121.30 L368.10,118.79 L368.31,120.69 L368.52,121.94 L368.73,116.98 L368.94,120.86 L369.16,119.72 L369.37,116.61 L369.58,120.60 L369.79,121.34 L370.00,120.56 L370.25,121.73 L370.50,120.23 L370.75,126.10 L371.00,126.76 L371.25,123.90 L371.50,124.83 L371.75,125.73 L372.00,125.46 L372.27,124.67 L372.55,128.69 L372.82,127.24 L373.09,125.48 L373.36,128.76 L373.64,128.41 L373.91,127.79 L374.18,128.74 L374.45,128.43 L374.73,127.58 L375.00,128.44 L375.20,129.38 L375.40,129.62 L375.60,129.44 L375.80,133.98 L376.00,131.79 L376.20,131.42 L376.40,131.45 L376.60,131.77 L376.80,132.97 L377.00,134.14 L377.11,133.26 L377.22,134.16 L377.33,136.29 L377.44,133.82 L377.55,135.33 L377.66,139.87 L377.77,137.91 L377.88,136.26 L377.99,136.89 L378.11,137.91 L378.22,139.55 L378.33,138.36 L378.44,141.58 L378.55,141.55 L378.66,140.35 L378.77,142.91 L378.88,139.74 L378.99,141.41 L379.10,142.19 L379.25,144.03 L379.40,145.67 L379.54,140.90 L379.69,142.20 L379.84,143.64 L379.99,144.96 L380.13,147.61 L380.28,148.36 L380.43,146.61 L380.58,147.01 L380.72,147.49 L380.87,148.78 L381.02,147.15 L381.17,149.38 L381.31,148.10 L381.46,149.71 L381.61,147.52 L381.76,149.73 L381.90,149.66 L382.05,148.68 L382.20,153.10 L382.45,151.04 L382.70,153.26 L382.95,151.52 L383.20,155.54 L383.45,152.26 L383.70,155.51 L383.95,152.37 L384.20,155.37 L384.45,155.39 L384.70,154.92 L384.95,155.62 L385.20,155.82 L385.45,155.79 L385.70,156.60 L385.95,159.23 L386.20,158.06 L386.48,157.32 L386.75,159.38 L387.03,158.37 L387.31,157.95 L387.58,161.55 L387.86,159.51 L388.14,160.07 L388.41,161.21 L388.69,161.40 L388.96,163.00 L389.24,162.61 L389.52,163.67 L389.79,162.12 L390.07,163.12 L390.35,163.75 L390.62,163.89 L390.90,164.53 L391.32,164.75 L391.74,165.61 L392.16,165.38 L392.58,164.03 L393.00,165.52 L393.42,165.01 L393.84,166.15 L394.26,164.94 L394.68,166.35 L395.10,166.46 L395.52,165.83 L395.94,165.53 L396.36,167.83 L396.78,167.86 L397.20,168.12 L397.66,168.13 L398.12,167.68 L398.58,167.01 L399.04,167.32 L399.49,168.10 L399.95,167.05 L400.41,167.56 L400.87,168.54 L401.33,168.28 L401.79,168.60 L402.25,167.77 L402.71,167.65 L403.16,168.60 L403.62,168.60 L404.08,168.08 L404.54,168.60 L405.00,168.48 L405.45,168.55 L405.91,167.99 L406.36,168.60 L406.82,168.16 L407.27,168.05 L407.73,168.60 L408.18,167.50 L408.64,168.08 L409.09,167.55 L409.55,168.05 L410.00,168.08 L410.45,168.60 L410.91,168.60 L411.36,167.88 L411.82,168.60 L412.27,167.79 L412.73,168.13 L413.18,167.88 L413.64,168.60 L414.09,168.60 L414.55,168.34 L415.00,167.64 L415.45,168.34 L415.91,168.60 L416.36,168.60 L416.82,168.43 L417.27,168.41 L417.73,168.07 L418.18,168.13 L418.64,168.48 L419.09,168.39 L419.55,168.31 L420.00,168.60 L420.45,168.53 L420.91,168.09 L421.36,168.60 L421.82,168.60 L422.27,168.60 L422.73,167.52 L423.18,168.08 L423.64,168.08 L424.09,167.62 L424.55,168.60 L425.00,167.50 L425.45,167.93 L425.91,168.60 L426.36,168.42 L426.82,168.15 L427.27,168.60 L427.73,168.57 L428.18,168.60 L428.64,168.60 L429.09,168.14 L429.55,168.19 L430.00,168.60" fill="none" stroke="#000" stroke-width="1.6" stroke-linejoin="round" /><text x="280.2" y="40.0" font-size="12.25" font-weight="normal" fill="#111" text-anchor="start" >Jurkat</text><line x1="296" y1="43" x2="308.10" y2="56.33" stroke="#111" stroke-width="1.2"/><polygon points="311.80,60.40 305.65,57.20 309.21,53.97" fill="#111"/><text x="350.4" y="45.4" font-size="12.25" font-weight="normal" fill="#111" text-anchor="start" >Synd2-Jurkat + heparinase</text><line x1="347.7" y1="41.6" x2="336.96" y2="42.93" stroke="#111" stroke-width="1.2"/><polygon points="331.50,43.60 337.66,40.42 338.25,45.19" fill="#111"/><text x="358.4" y="65.6" font-size="12.25" font-weight="normal" fill="#111" text-anchor="start" >Synd2-Jurkat + heparitinase</text><line x1="354.4" y1="65.4" x2="341.94" y2="75.70" stroke="#111" stroke-width="1.2"/><polygon points="337.70,79.20 341.18,73.21 344.24,76.91" fill="#111"/><text x="385.9" y="113.6" font-size="12.25" font-weight="normal" fill="#111" text-anchor="start" >Synd2-Jurkat</text><line x1="388.8" y1="115.2" x2="380.19" y2="118.19" stroke="#111" stroke-width="1.2"/><polygon points="375.00,120.00 380.35,115.60 381.93,120.13" fill="#111"/><rect x="19.5" y="244.0" width="254.5" height="202.0" fill="none" stroke="#666" stroke-width="1"/><line x1="19.50" y1="446.0" x2="19.50" y2="448.0" stroke="#555" stroke-width="0.9"/><line x1="38.65" y1="446.0" x2="38.65" y2="448.0" stroke="#555" stroke-width="0.9"/><line x1="49.86" y1="446.0" x2="49.86" y2="448.0" stroke="#555" stroke-width="0.9"/><line x1="57.81" y1="446.0" x2="57.81" y2="448.0" stroke="#555" stroke-width="0.9"/><line x1="63.97" y1="446.0" x2="63.97" y2="448.0" stroke="#555" stroke-width="0.9"/><line x1="69.01" y1="446.0" x2="69.01" y2="448.0" stroke="#555" stroke-width="0.9"/><line x1="73.27" y1="446.0" x2="73.27" y2="448.0" stroke="#555" stroke-width="0.9"/><line x1="76.96" y1="446.0" x2="76.96" y2="448.0" stroke="#555" stroke-width="0.9"/><line x1="80.21" y1="446.0" x2="80.21" y2="448.0" stroke="#555" stroke-width="0.9"/><line x1="83.12" y1="446.0" x2="83.12" y2="448.0" stroke="#555" stroke-width="0.9"/><line x1="102.28" y1="446.0" x2="102.28" y2="448.0" stroke="#555" stroke-width="0.9"/><line x1="113.48" y1="446.0" x2="113.48" y2="448.0" stroke="#555" stroke-width="0.9"/><line x1="121.43" y1="446.0" x2="121.43" y2="448.0" stroke="#555" stroke-width="0.9"/><line x1="127.60" y1="446.0" x2="127.60" y2="448.0" stroke="#555" stroke-width="0.9"/><line x1="132.63" y1="446.0" x2="132.63" y2="448.0" stroke="#555" stroke-width="0.9"/><line x1="136.89" y1="446.0" x2="136.89" y2="448.0" stroke="#555" stroke-width="0.9"/><line x1="140.58" y1="446.0" x2="140.58" y2="448.0" stroke="#555" stroke-width="0.9"/><line x1="143.84" y1="446.0" x2="143.84" y2="448.0" stroke="#555" stroke-width="0.9"/><line x1="146.75" y1="446.0" x2="146.75" y2="448.0" stroke="#555" stroke-width="0.9"/><line x1="165.90" y1="446.0" x2="165.90" y2="448.0" stroke="#555" stroke-width="0.9"/><line x1="177.11" y1="446.0" x2="177.11" y2="448.0" stroke="#555" stroke-width="0.9"/><line x1="185.06" y1="446.0" x2="185.06" y2="448.0" stroke="#555" stroke-width="0.9"/><line x1="191.22" y1="446.0" x2="191.22" y2="448.0" stroke="#555" stroke-width="0.9"/><line x1="196.26" y1="446.0" x2="196.26" y2="448.0" stroke="#555" stroke-width="0.9"/><line x1="200.52" y1="446.0" x2="200.52" y2="448.0" stroke="#555" stroke-width="0.9"/><line x1="204.21" y1="446.0" x2="204.21" y2="448.0" stroke="#555" stroke-width="0.9"/><line x1="207.46" y1="446.0" x2="207.46" y2="448.0" stroke="#555" stroke-width="0.9"/><line x1="210.38" y1="446.0" x2="210.38" y2="448.0" stroke="#555" stroke-width="0.9"/><line x1="229.53" y1="446.0" x2="229.53" y2="448.0" stroke="#555" stroke-width="0.9"/><line x1="240.73" y1="446.0" x2="240.73" y2="448.0" stroke="#555" stroke-width="0.9"/><line x1="248.68" y1="446.0" x2="248.68" y2="448.0" stroke="#555" stroke-width="0.9"/><line x1="254.85" y1="446.0" x2="254.85" y2="448.0" stroke="#555" stroke-width="0.9"/><line x1="259.88" y1="446.0" x2="259.88" y2="448.0" stroke="#555" stroke-width="0.9"/><line x1="264.14" y1="446.0" x2="264.14" y2="448.0" stroke="#555" stroke-width="0.9"/><line x1="267.83" y1="446.0" x2="267.83" y2="448.0" stroke="#555" stroke-width="0.9"/><line x1="271.09" y1="446.0" x2="271.09" y2="448.0" stroke="#555" stroke-width="0.9"/><text x="17.10" y="457.6" font-size="6.5" fill="#333">10<tspan font-size="5.8" dy="-3.4">0</tspan></text><text x="80.73" y="457.6" font-size="6.5" fill="#333">10<tspan font-size="5.8" dy="-3.4">1</tspan></text><text x="144.35" y="457.6" font-size="6.5" fill="#333">10<tspan font-size="5.8" dy="-3.4">2</tspan></text><text x="207.97" y="457.6" font-size="6.5" fill="#333">10<tspan font-size="5.8" dy="-3.4">3</tspan></text><text x="271.60" y="457.6" font-size="6.5" fill="#333">10<tspan font-size="5.8" dy="-3.4">4</tspan></text><line x1="17.0" y1="446.00" x2="19.5" y2="446.00" stroke="#666" stroke-width="1"/><line x1="17.0" y1="392.60" x2="19.5" y2="392.60" stroke="#666" stroke-width="1"/><line x1="17.0" y1="339.20" x2="19.5" y2="339.20" stroke="#666" stroke-width="1"/><line x1="17.0" y1="285.80" x2="19.5" y2="285.80" stroke="#666" stroke-width="1"/><text transform="translate(16.0,446.2) rotate(-90)" font-size="6.2" fill="#777" text-anchor="middle">0</text><text transform="translate(0.0,235.0) scale(0.91,1.07)" font-size="25" font-weight="bold" fill="#000">C</text><text transform="translate(11.3,402.3) rotate(-90)" font-size="12.2" fill="#161616">Relative Cell Number</text><text x="84.8" y="473.9" font-size="12.25" font-weight="normal" fill="#111" text-anchor="start" >Fluorescence Intensity</text><path d="M19.50,445.50 L20.15,445.50 L20.80,445.50 L21.45,445.50 L22.10,445.50 L22.75,445.50 L23.40,445.50 L24.05,445.50 L24.70,445.50 L25.35,445.50 L26.00,445.50 L26.62,445.43 L27.25,445.37 L27.88,445.31 L28.50,445.28 L29.12,445.23 L29.75,445.09 L30.38,445.07 L31.00,445.00 L31.62,444.82 L32.25,444.63 L32.88,444.40 L33.50,444.25 L34.12,443.96 L34.75,443.93 L35.38,443.74 L36.00,443.63 L36.57,443.11 L37.14,442.80 L37.71,442.58 L38.29,442.28 L38.86,441.94 L39.43,441.50 L40.00,441.30 L40.30,440.71 L40.60,440.23 L40.90,439.49 L41.20,438.91 L41.50,438.12 L41.80,437.77 L42.10,437.24 L42.31,436.52 L42.52,435.73 L42.74,435.02 L42.95,434.28 L43.16,434.34 L43.37,433.62 L43.58,432.74 L43.79,432.37 L44.01,431.63 L44.22,431.15 L44.43,430.31 L44.64,429.93 L44.85,429.52 L45.06,428.93 L45.28,428.26 L45.49,427.58 L45.70,426.75 L45.82,426.06 L45.93,425.76 L46.05,425.44 L46.17,424.29 L46.28,423.77 L46.40,423.59 L46.52,422.67 L46.63,422.23 L46.75,421.44 L46.87,420.54 L46.98,420.19 L47.10,419.51 L47.22,418.77 L47.33,419.08 L47.45,418.22 L47.57,417.60 L47.68,417.28 L47.80,416.77 L47.92,415.52 L48.03,415.11 L48.15,414.66 L48.27,414.14 L48.38,413.31 L48.50,412.77 L48.57,412.28 L48.64,411.09 L48.71,411.46 L48.78,410.60 L48.85,409.79 L48.93,409.67 L49.00,408.40 L49.07,408.17 L49.14,407.01 L49.21,406.79 L49.28,405.90 L49.35,405.38 L49.42,404.82 L49.49,404.86 L49.56,404.35 L49.64,403.43 L49.71,402.17 L49.78,402.73 L49.85,401.95 L49.92,401.07 L49.99,400.15 L50.06,399.55 L50.13,398.66 L50.20,398.36 L50.27,398.15 L50.35,397.31 L50.42,396.83 L50.49,395.49 L50.56,395.09 L50.63,395.07 L50.70,394.55 L50.79,393.79 L50.88,393.45 L50.97,391.95 L51.07,391.37 L51.16,390.48 L51.25,390.52 L51.34,390.70 L51.43,389.70 L51.52,387.81 L51.61,387.90 L51.70,387.71 L51.80,386.64 L51.89,386.12 L51.98,385.54 L52.07,384.51 L52.16,384.25 L52.25,383.45 L52.34,382.96 L52.43,382.19 L52.53,381.83 L52.62,382.01 L52.71,380.79 L52.80,380.52 L52.83,379.82 L52.87,378.63 L52.90,378.14 L52.93,377.84 L52.97,377.38 L53.00,377.29 L53.03,376.37 L53.07,374.91 L53.10,375.13 L53.13,374.11 L53.17,373.90 L53.20,372.79 L53.23,371.29 L53.27,371.81 L53.30,371.16 L53.33,369.57 L53.37,369.91 L53.40,369.55 L53.43,368.81 L53.47,367.13 L53.50,367.91 L53.53,366.79 L53.57,366.11 L53.60,364.77 L53.63,365.16 L53.67,363.75 L53.70,363.84 L53.73,362.71 L53.77,362.31 L53.80,362.51 L53.85,361.79 L53.90,360.90 L53.95,360.05 L54.01,359.61 L54.06,358.56 L54.11,357.62 L54.16,358.15 L54.21,356.76 L54.26,356.32 L54.31,355.21 L54.37,355.21 L54.42,354.70 L54.47,353.75 L54.52,353.13 L54.57,353.22 L54.62,352.92 L54.67,351.36 L54.73,350.59 L54.78,349.24 L54.83,349.45 L54.88,350.14 L54.93,348.03 L54.98,347.43 L55.03,347.77 L55.09,346.44 L55.14,345.77 L55.19,345.64 L55.24,344.55 L55.29,344.30 L55.34,342.74 L55.39,343.39 L55.45,342.59 L55.50,341.91 L55.55,340.67 L55.60,339.90 L55.72,340.22 L55.84,339.37 L55.96,338.96 L56.08,338.62 L56.19,337.15 L56.31,336.27 L56.43,336.69 L56.55,335.52 L56.67,334.83 L56.79,334.15 L56.91,334.00 L57.02,334.34 L57.14,333.00 L57.26,332.11 L57.38,330.73 L57.50,330.96 L57.70,330.44 L57.90,328.64 L58.10,328.37 L58.30,328.55 L58.50,327.08 L58.70,326.78 L58.90,327.63 L59.10,325.71 L59.37,326.18 L59.64,325.68 L59.91,323.77 L60.19,324.04 L60.46,322.27 L60.73,323.29 L61.00,321.04 L61.21,321.22 L61.43,320.62 L61.64,320.09 L61.86,319.29 L62.07,318.25 L62.29,318.59 L62.50,317.58 L62.63,318.08 L62.76,316.87 L62.89,316.27 L63.01,316.33 L63.14,315.68 L63.27,314.11 L63.40,312.84 L63.51,314.74 L63.62,314.67 L63.73,315.05 L63.84,316.39 L63.96,315.94 L64.07,317.38 L64.18,318.60 L64.29,318.50 L64.40,318.36 L64.62,319.22 L64.84,320.71 L65.06,321.66 L65.28,321.44 L65.50,322.17 L65.61,320.61 L65.72,319.99 L65.84,319.85 L65.95,319.44 L66.06,319.13 L66.18,319.09 L66.29,317.66 L66.40,317.77 L66.52,315.39 L66.64,315.15 L66.76,315.44 L66.88,314.31 L67.00,312.97 L67.14,315.01 L67.29,315.62 L67.43,314.87 L67.57,316.32 L67.71,316.64 L67.86,317.24 L68.00,317.32 L68.07,318.21 L68.15,318.57 L68.22,320.34 L68.29,320.70 L68.36,321.43 L68.44,320.92 L68.51,323.08 L68.58,323.62 L68.65,322.95 L68.73,325.15 L68.80,324.57 L68.92,325.18 L69.05,326.45 L69.17,327.48 L69.30,327.97 L69.42,329.23 L69.55,329.12 L69.67,329.45 L69.80,329.81 L69.85,330.27 L69.90,331.16 L69.95,331.17 L70.01,331.59 L70.06,332.47 L70.11,333.11 L70.16,335.22 L70.21,334.46 L70.26,334.64 L70.31,336.34 L70.37,336.39 L70.42,336.23 L70.47,338.85 L70.52,338.19 L70.57,338.79 L70.62,339.05 L70.67,339.75 L70.73,341.65 L70.78,340.92 L70.83,341.93 L70.88,342.14 L70.93,342.65 L70.98,344.25 L71.03,344.33 L71.09,345.32 L71.14,344.94 L71.19,346.59 L71.24,347.41 L71.29,347.95 L71.34,348.05 L71.39,348.28 L71.45,349.72 L71.50,350.29 L71.55,350.97 L71.60,351.15 L71.66,351.53 L71.72,351.52 L71.77,353.43 L71.83,353.45 L71.89,354.08 L71.95,355.66 L72.01,355.66 L72.06,356.43 L72.12,356.75 L72.18,356.99 L72.24,358.40 L72.30,357.74 L72.35,359.10 L72.41,359.48 L72.47,360.29 L72.53,361.22 L72.59,361.97 L72.65,361.52 L72.70,362.55 L72.76,363.68 L72.82,364.12 L72.88,364.54 L72.94,364.48 L72.99,365.92 L73.05,365.42 L73.11,366.13 L73.17,368.18 L73.23,368.53 L73.28,369.06 L73.34,369.87 L73.40,369.98 L73.53,370.48 L73.66,370.78 L73.79,371.31 L73.92,372.80 L74.05,372.84 L74.18,373.19 L74.31,373.85 L74.44,374.84 L74.56,375.62 L74.69,376.72 L74.82,376.85 L74.95,376.93 L75.08,377.94 L75.21,378.61 L75.34,379.16 L75.47,379.50 L75.60,380.29 L75.69,380.92 L75.78,380.73 L75.87,381.72 L75.97,382.15 L76.06,382.44 L76.15,383.56 L76.24,384.27 L76.33,385.52 L76.42,385.70 L76.51,386.08 L76.60,386.79 L76.70,387.01 L76.79,387.99 L76.88,389.40 L76.97,389.49 L77.06,390.08 L77.15,389.94 L77.24,390.98 L77.33,392.36 L77.43,392.23 L77.52,392.48 L77.61,393.85 L77.70,394.07 L77.77,394.45 L77.84,395.23 L77.91,396.16 L77.98,397.05 L78.05,397.00 L78.13,397.17 L78.20,398.02 L78.27,398.78 L78.34,399.82 L78.41,399.84 L78.48,400.06 L78.55,401.10 L78.62,402.51 L78.69,402.81 L78.76,403.59 L78.84,404.50 L78.91,404.81 L78.98,405.27 L79.05,405.27 L79.12,406.35 L79.19,406.49 L79.26,407.56 L79.33,408.37 L79.40,407.96 L79.47,409.64 L79.55,409.90 L79.62,410.74 L79.69,410.92 L79.76,411.72 L79.83,411.71 L79.90,412.65 L79.99,413.38 L80.08,413.75 L80.17,414.44 L80.27,415.24 L80.36,415.83 L80.45,416.62 L80.54,417.30 L80.63,417.33 L80.72,418.04 L80.81,419.17 L80.90,419.54 L81.00,420.02 L81.09,420.90 L81.18,421.20 L81.27,422.10 L81.36,422.45 L81.45,423.42 L81.54,423.83 L81.63,424.54 L81.73,424.96 L81.82,425.92 L81.91,426.48 L82.00,427.23 L82.13,427.51 L82.26,428.10 L82.39,428.89 L82.52,429.51 L82.65,430.13 L82.78,430.37 L82.91,430.95 L83.04,431.30 L83.16,432.32 L83.29,432.94 L83.42,433.31 L83.55,433.88 L83.68,434.65 L83.81,435.26 L83.94,435.91 L84.07,436.25 L84.20,436.89 L84.48,437.67 L84.76,438.09 L85.04,438.66 L85.32,439.55 L85.60,439.89 L85.88,440.35 L86.16,440.93 L86.44,441.64 L86.72,442.24 L87.00,442.72 L87.48,443.02 L87.97,443.50 L88.45,443.92 L88.93,444.25 L89.42,444.77 L89.90,445.19 L90.54,445.23 L91.18,445.26 L91.81,445.33 L92.45,445.35 L93.09,445.36 L93.72,445.42 L94.36,445.46 L95.00,445.50 L95.60,445.50 L96.20,445.50 L96.80,445.50 L97.40,445.50 L98.00,445.50 L98.60,445.50 L99.20,445.50 L99.81,445.50 L100.41,445.50 L101.01,445.50 L101.61,445.50 L102.21,445.50 L102.81,445.50 L103.41,445.50 L104.01,445.50 L104.61,445.50 L105.21,445.50 L105.81,445.50 L106.41,445.50 L107.01,445.50 L107.61,445.50 L108.21,445.50 L108.82,445.50 L109.42,445.50 L110.02,445.50 L110.62,445.50 L111.22,445.50 L111.82,445.50 L112.42,445.50 L113.02,445.50 L113.62,445.50 L114.22,445.50 L114.82,445.50 L115.42,445.50 L116.02,445.50 L116.62,445.50 L117.22,445.50 L117.83,445.50 L118.43,445.50 L119.03,445.50 L119.63,445.50 L120.23,445.50 L120.83,445.50 L121.43,445.50 L122.03,445.50 L122.63,445.50 L123.23,445.50 L123.83,445.50 L124.43,445.50 L125.03,445.50 L125.63,445.50 L126.23,445.50 L126.84,445.50 L127.44,445.50 L128.04,445.50 L128.64,445.50 L129.24,445.50 L129.84,445.50 L130.44,445.50 L131.04,445.50 L131.64,445.50 L132.24,445.50 L132.84,445.50 L133.44,445.50 L134.04,445.50 L134.64,445.50 L135.24,445.50 L135.85,445.50 L136.45,445.50 L137.05,445.50 L137.65,445.50 L138.25,445.50 L138.85,445.50 L139.45,445.50 L140.05,445.50 L140.65,445.50 L141.25,445.50 L141.85,445.50 L142.45,445.50 L143.05,445.50 L143.65,445.50 L144.26,445.50 L144.86,445.50 L145.46,445.50 L146.06,445.50 L146.66,445.50 L147.26,445.50 L147.86,445.50 L148.46,445.50 L149.06,445.50 L149.66,445.50 L150.26,445.50 L150.86,445.50 L151.46,445.50 L152.06,445.50 L152.66,445.50 L153.27,445.50 L153.87,445.50 L154.47,445.50 L155.07,445.50 L155.67,445.50 L156.27,445.50 L156.87,445.50 L157.47,445.50 L158.07,445.50 L158.67,445.50 L159.27,445.50 L159.87,445.50 L160.47,445.50 L161.07,445.50 L161.67,445.50 L162.28,445.50 L162.88,445.50 L163.48,445.50 L164.08,445.50 L164.68,445.50 L165.28,445.50 L165.88,445.50 L166.48,445.50 L167.08,445.50 L167.68,445.50 L168.28,445.50 L168.88,445.50 L169.48,445.50 L170.08,445.50 L170.68,445.50 L171.29,445.50 L171.89,445.50 L172.49,445.50 L173.09,445.50 L173.69,445.50 L174.29,445.50 L174.89,445.50 L175.49,445.50 L176.09,445.50 L176.69,445.50 L177.29,445.50 L177.89,445.50 L178.49,445.50 L179.09,445.50 L179.69,445.50 L180.30,445.50 L180.90,445.50 L181.50,445.50 L182.10,445.50 L182.70,445.50 L183.30,445.50 L183.90,445.50 L184.50,445.50 L185.10,445.50 L185.70,445.50 L186.30,445.50 L186.90,445.50 L187.50,445.50 L188.10,445.50 L188.70,445.50 L189.31,445.50 L189.91,445.50 L190.51,445.50 L191.11,445.50 L191.71,445.50 L192.31,445.50 L192.91,445.50 L193.51,445.50 L194.11,445.50 L194.71,445.50 L195.31,445.50 L195.91,445.50 L196.51,445.50 L197.11,445.50 L197.71,445.50 L198.32,445.50 L198.92,445.50 L199.52,445.50 L200.12,445.50 L200.72,445.50 L201.32,445.50 L201.92,445.50 L202.52,445.50 L203.12,445.50 L203.72,445.50 L204.32,445.50 L204.92,445.50 L205.52,445.50 L206.12,445.50 L206.72,445.50 L207.33,445.50 L207.93,445.50 L208.53,445.50 L209.13,445.50 L209.73,445.50 L210.33,445.50 L210.93,445.50 L211.53,445.50 L212.13,445.50 L212.73,445.50 L213.33,445.50 L213.93,445.50 L214.53,445.50 L215.13,445.50 L215.73,445.50 L216.34,445.50 L216.94,445.50 L217.54,445.50 L218.14,445.50 L218.74,445.50 L219.34,445.50 L219.94,445.50 L220.54,445.50 L221.14,445.50 L221.74,445.50 L222.34,445.50 L222.94,445.50 L223.54,445.50 L224.14,445.50 L224.74,445.50 L225.35,445.50 L225.95,445.50 L226.55,445.50 L227.15,445.50 L227.75,445.50 L228.35,445.50 L228.95,445.50 L229.55,445.50 L230.15,445.50 L230.75,445.50 L231.35,445.50 L231.95,445.50 L232.55,445.50 L233.15,445.50 L233.76,445.50 L234.36,445.50 L234.96,445.50 L235.56,445.50 L236.16,445.50 L236.76,445.50 L237.36,445.50 L237.96,445.50 L238.56,445.50 L239.16,445.50 L239.76,445.50 L240.36,445.50 L240.96,445.50 L241.56,445.50 L242.16,445.50 L242.77,445.50 L243.37,445.50 L243.97,445.50 L244.57,445.50 L245.17,445.50 L245.77,445.50 L246.37,445.50 L246.97,445.50 L247.57,445.50 L248.17,445.50 L248.77,445.50 L249.37,445.50 L249.97,445.50 L250.57,445.50 L251.17,445.50 L251.78,445.50 L252.38,445.50 L252.98,445.50 L253.58,445.50 L254.18,445.50 L254.78,445.50 L255.38,445.50 L255.98,445.50 L256.58,445.50 L257.18,445.50 L257.78,445.50 L258.38,445.50 L258.98,445.50 L259.58,445.50 L260.18,445.50 L260.79,445.50 L261.39,445.50 L261.99,445.50 L262.59,445.50 L263.19,445.50 L263.79,445.50 L264.39,445.50 L264.99,445.50 L265.59,445.50 L266.19,445.50 L266.79,445.50 L267.39,445.50 L267.99,445.50 L268.59,445.50 L269.19,445.50 L269.80,445.50 L270.40,445.50 L271.00,445.50 L271.60,445.50 L272.20,445.50 L272.80,445.50 L273.40,445.50 L274.00,445.50" fill="none" stroke="#3a3a3a" stroke-width="1.0" stroke-linejoin="round" /><path d="M19.50,445.50 L20.10,445.50 L20.71,445.50 L21.31,445.50 L21.91,445.50 L22.51,445.50 L23.12,445.50 L23.72,445.50 L24.32,445.50 L24.93,445.50 L25.53,445.50 L26.13,445.50 L26.74,445.50 L27.34,445.50 L27.94,445.50 L28.54,445.50 L29.15,445.50 L29.75,445.50 L30.35,445.50 L30.96,445.50 L31.56,445.50 L32.16,445.50 L32.76,445.50 L33.37,445.50 L33.97,445.50 L34.57,445.50 L35.18,445.50 L35.78,445.50 L36.38,445.50 L36.99,445.50 L37.59,445.50 L38.19,445.50 L38.79,445.50 L39.40,445.50 L40.00,445.50 L40.60,445.46 L41.20,445.41 L41.80,445.39 L42.40,445.31 L43.00,445.29 L43.59,445.03 L44.17,444.75 L44.76,444.53 L45.34,444.19 L45.93,443.88 L46.51,443.66 L47.10,443.31 L47.55,442.97 L48.00,442.53 L48.45,441.92 L48.90,441.69 L49.35,441.16 L49.80,440.76 L50.25,440.37 L50.70,440.01 L50.95,439.29 L51.21,438.65 L51.46,438.13 L51.71,437.46 L51.96,436.94 L52.22,436.20 L52.47,435.89 L52.72,435.26 L52.98,434.59 L53.23,434.02 L53.48,433.55 L53.74,432.78 L53.99,432.07 L54.24,431.64 L54.49,431.12 L54.75,430.65 L55.00,429.75 L55.15,429.27 L55.29,428.68 L55.44,428.11 L55.58,427.50 L55.73,426.99 L55.88,426.22 L56.02,425.53 L56.17,425.43 L56.31,424.35 L56.46,424.12 L56.60,423.53 L56.75,422.60 L56.90,422.03 L57.04,421.55 L57.19,421.09 L57.33,420.16 L57.48,419.90 L57.62,419.15 L57.77,418.59 L57.92,417.78 L58.06,417.42 L58.21,416.85 L58.35,415.72 L58.50,415.54 L58.60,415.19 L58.71,414.15 L58.81,414.26 L58.91,413.23 L59.02,412.59 L59.12,411.84 L59.23,410.81 L59.33,410.70 L59.43,409.82 L59.54,409.22 L59.64,409.25 L59.74,408.13 L59.85,407.54 L59.95,406.87 L60.05,406.97 L60.16,406.03 L60.26,405.17 L60.36,404.72 L60.47,404.13 L60.57,403.65 L60.67,402.86 L60.78,401.96 L60.88,401.80 L60.99,400.88 L61.09,400.14 L61.19,399.70 L61.30,399.06 L61.40,398.64 L61.47,397.96 L61.54,397.18 L61.60,396.60 L61.67,396.11 L61.74,395.84 L61.81,394.73 L61.87,394.74 L61.94,393.86 L62.01,392.98 L62.08,392.72 L62.15,392.12 L62.21,391.61 L62.28,390.33 L62.35,390.22 L62.42,389.90 L62.48,388.76 L62.55,388.09 L62.62,387.10 L62.69,386.98 L62.75,386.50 L62.82,385.43 L62.89,385.17 L62.96,384.82 L63.03,383.96 L63.09,383.20 L63.16,382.79 L63.23,382.04 L63.30,382.24 L63.36,380.99 L63.43,380.48 L63.50,379.99 L63.62,379.31 L63.75,378.85 L63.87,378.07 L63.99,377.67 L64.12,377.23 L64.24,376.47 L64.36,375.93 L64.49,375.73 L64.61,375.38 L64.74,374.38 L64.86,373.72 L64.98,373.29 L65.11,372.56 L65.23,371.26 L65.35,371.34 L65.48,370.88 L65.60,370.62 L65.62,369.98 L65.63,369.05 L65.65,367.94 L65.67,367.32 L65.68,367.01 L65.70,366.96 L65.72,365.46 L65.73,365.48 L65.75,364.87 L65.77,363.68 L65.78,363.06 L65.80,362.60 L65.82,361.69 L65.83,361.53 L65.85,361.04 L65.87,359.91 L65.88,359.65 L65.90,358.76 L65.92,359.03 L65.93,357.93 L65.95,356.92 L65.97,356.59 L65.98,355.87 L66.00,355.94 L66.09,354.51 L66.19,354.64 L66.28,353.89 L66.38,353.14 L66.47,352.21 L66.56,351.83 L66.66,351.65 L66.75,350.17 L66.85,350.13 L66.94,348.91 L67.04,348.99 L67.13,348.21 L67.22,347.67 L67.32,346.81 L67.41,346.44 L67.51,346.16 L67.60,345.04 L67.84,344.36 L68.09,343.39 L68.33,343.72 L68.57,343.07 L68.81,342.47 L69.06,341.25 L69.30,341.56 L69.54,340.32 L69.79,340.25 L70.03,339.33 L70.27,338.91 L70.51,338.36 L70.76,337.37 L71.00,336.73 L71.08,336.19 L71.17,336.36 L71.25,335.09 L71.33,334.01 L71.42,333.91 L71.50,332.95 L71.58,332.63 L71.67,332.13 L71.75,331.57 L71.83,330.37 L71.92,330.06 L72.00,329.10 L72.08,328.66 L72.17,328.34 L72.25,327.77 L72.33,327.06 L72.42,326.75 L72.50,326.17 L72.62,325.50 L72.75,324.49 L72.88,324.34 L73.00,323.33 L73.12,323.45 L73.25,322.09 L73.38,321.94 L73.50,320.89 L74.00,322.25 L74.50,322.65 L75.00,322.82 L75.50,322.38 L76.05,323.71 L76.60,322.68 L77.15,324.05 L77.70,324.13 L77.80,324.97 L77.90,324.95 L78.00,326.12 L78.10,326.37 L78.20,327.66 L78.30,328.57 L78.40,328.15 L78.50,328.09 L78.60,329.33 L78.70,329.87 L78.80,331.09 L78.90,331.97 L79.00,331.61 L79.08,332.25 L79.15,333.06 L79.22,333.86 L79.30,333.80 L79.38,334.96 L79.45,335.40 L79.53,335.94 L79.60,337.21 L79.67,337.64 L79.75,338.47 L79.83,338.95 L79.90,339.52 L79.98,340.04 L80.05,340.17 L80.12,341.39 L80.20,342.02 L80.28,342.21 L80.35,343.87 L80.43,343.67 L80.51,343.53 L80.59,345.11 L80.66,346.01 L80.74,346.23 L80.82,347.29 L80.90,346.70 L80.97,348.21 L81.05,348.66 L81.13,349.57 L81.20,349.71 L81.28,350.69 L81.36,350.65 L81.44,351.26 L81.51,352.52 L81.59,353.15 L81.67,353.31 L81.75,354.05 L81.82,354.78 L81.90,354.90 L81.94,355.28 L81.98,356.51 L82.03,356.74 L82.07,357.48 L82.11,358.68 L82.15,359.02 L82.19,360.28 L82.23,360.14 L82.28,360.16 L82.32,361.16 L82.36,362.45 L82.40,362.34 L82.44,363.64 L82.48,364.15 L82.53,364.30 L82.57,364.54 L82.61,366.27 L82.65,366.23 L82.69,366.56 L82.73,367.07 L82.78,368.40 L82.82,368.74 L82.86,369.55 L82.90,369.99 L82.98,370.43 L83.06,371.34 L83.14,371.33 L83.23,372.53 L83.31,372.84 L83.39,373.44 L83.47,374.57 L83.55,374.96 L83.63,375.52 L83.71,375.93 L83.79,376.90 L83.88,377.42 L83.96,378.20 L84.04,378.62 L84.12,379.21 L84.20,380.31 L84.29,380.18 L84.38,380.81 L84.47,381.60 L84.57,382.56 L84.66,383.35 L84.75,383.46 L84.84,384.75 L84.93,385.05 L85.02,385.24 L85.11,386.48 L85.20,386.99 L85.30,387.54 L85.39,387.62 L85.48,388.70 L85.57,388.66 L85.66,389.86 L85.75,390.00 L85.84,391.10 L85.93,391.44 L86.03,392.04 L86.12,393.60 L86.21,393.50 L86.30,394.02 L86.38,394.96 L86.46,395.70 L86.54,395.82 L86.62,397.07 L86.70,397.05 L86.78,398.08 L86.86,398.47 L86.94,399.00 L87.02,399.80 L87.10,400.19 L87.18,400.65 L87.26,401.63 L87.34,402.03 L87.42,402.76 L87.50,403.38 L87.58,404.08 L87.66,404.58 L87.74,405.54 L87.82,405.97 L87.90,406.67 L87.98,407.53 L88.06,408.00 L88.14,407.81 L88.22,409.00 L88.30,409.21 L88.38,409.96 L88.46,410.71 L88.54,411.38 L88.62,411.89 L88.70,412.42 L88.78,413.60 L88.86,414.14 L88.94,414.49 L89.02,414.79 L89.10,415.62 L89.22,416.32 L89.34,416.83 L89.46,417.16 L89.58,418.44 L89.70,418.96 L89.82,418.72 L89.95,419.66 L90.07,420.16 L90.19,421.00 L90.31,421.75 L90.43,422.19 L90.55,422.65 L90.67,423.34 L90.79,423.96 L90.91,424.62 L91.03,424.83 L91.15,425.87 L91.28,426.32 L91.40,427.10 L91.52,427.47 L91.64,428.39 L91.76,428.65 L91.88,429.41 L92.00,429.55 L92.24,430.45 L92.48,430.95 L92.72,431.49 L92.96,432.09 L93.20,432.57 L93.44,433.22 L93.68,434.02 L93.92,434.51 L94.16,434.91 L94.40,435.39 L94.64,436.20 L94.88,436.83 L95.12,437.27 L95.36,437.74 L95.60,438.45 L95.95,439.07 L96.30,439.44 L96.65,440.05 L97.00,440.51 L97.35,441.21 L97.70,441.45 L98.05,442.09 L98.40,442.78 L98.92,443.15 L99.44,443.62 L99.96,444.08 L100.48,444.54 L101.00,444.97 L101.60,445.08 L102.20,445.21 L102.80,445.29 L103.40,445.41 L104.00,445.50 L104.60,445.50 L105.20,445.50 L105.80,445.50 L106.40,445.50 L107.00,445.50 L107.60,445.50 L108.20,445.50 L108.81,445.50 L109.41,445.50 L110.01,445.50 L110.61,445.50 L111.21,445.50 L111.81,445.50 L112.41,445.50 L113.01,445.50 L113.61,445.50 L114.21,445.50 L114.81,445.50 L115.41,445.50 L116.01,445.50 L116.61,445.50 L117.22,445.50 L117.82,445.50 L118.42,445.50 L119.02,445.50 L119.62,445.50 L120.22,445.50 L120.82,445.50 L121.42,445.50 L122.02,445.50 L122.62,445.50 L123.22,445.50 L123.82,445.50 L124.42,445.50 L125.02,445.50 L125.63,445.50 L126.23,445.50 L126.83,445.50 L127.43,445.50 L128.03,445.50 L128.63,445.50 L129.23,445.50 L129.83,445.50 L130.43,445.50 L131.03,445.50 L131.63,445.50 L132.23,445.50 L132.83,445.50 L133.43,445.50 L134.04,445.50 L134.64,445.50 L135.24,445.50 L135.84,445.50 L136.44,445.50 L137.04,445.50 L137.64,445.50 L138.24,445.50 L138.84,445.50 L139.44,445.50 L140.04,445.50 L140.64,445.50 L141.24,445.50 L141.84,445.50 L142.45,445.50 L143.05,445.50 L143.65,445.50 L144.25,445.50 L144.85,445.50 L145.45,445.50 L146.05,445.50 L146.65,445.50 L147.25,445.50 L147.85,445.50 L148.45,445.50 L149.05,445.50 L149.65,445.50 L150.25,445.50 L150.86,445.50 L151.46,445.50 L152.06,445.50 L152.66,445.50 L153.26,445.50 L153.86,445.50 L154.46,445.50 L155.06,445.50 L155.66,445.50 L156.26,445.50 L156.86,445.50 L157.46,445.50 L158.06,445.50 L158.66,445.50 L159.27,445.50 L159.87,445.50 L160.47,445.50 L161.07,445.50 L161.67,445.50 L162.27,445.50 L162.87,445.50 L163.47,445.50 L164.07,445.50 L164.67,445.50 L165.27,445.50 L165.87,445.50 L166.47,445.50 L167.07,445.50 L167.67,445.50 L168.28,445.50 L168.88,445.50 L169.48,445.50 L170.08,445.50 L170.68,445.50 L171.28,445.50 L171.88,445.50 L172.48,445.50 L173.08,445.50 L173.68,445.50 L174.28,445.50 L174.88,445.50 L175.48,445.50 L176.08,445.50 L176.69,445.50 L177.29,445.50 L177.89,445.50 L178.49,445.50 L179.09,445.50 L179.69,445.50 L180.29,445.50 L180.89,445.50 L181.49,445.50 L182.09,445.50 L182.69,445.50 L183.29,445.50 L183.89,445.50 L184.49,445.50 L185.10,445.50 L185.70,445.50 L186.30,445.50 L186.90,445.50 L187.50,445.50 L188.10,445.50 L188.70,445.50 L189.30,445.50 L189.90,445.50 L190.50,445.50 L191.10,445.50 L191.70,445.50 L192.30,445.50 L192.90,445.50 L193.51,445.50 L194.11,445.50 L194.71,445.50 L195.31,445.50 L195.91,445.50 L196.51,445.50 L197.11,445.50 L197.71,445.50 L198.31,445.50 L198.91,445.50 L199.51,445.50 L200.11,445.50 L200.71,445.50 L201.31,445.50 L201.92,445.50 L202.52,445.50 L203.12,445.50 L203.72,445.50 L204.32,445.50 L204.92,445.50 L205.52,445.50 L206.12,445.50 L206.72,445.50 L207.32,445.50 L207.92,445.50 L208.52,445.50 L209.12,445.50 L209.72,445.50 L210.33,445.50 L210.93,445.50 L211.53,445.50 L212.13,445.50 L212.73,445.50 L213.33,445.50 L213.93,445.50 L214.53,445.50 L215.13,445.50 L215.73,445.50 L216.33,445.50 L216.93,445.50 L217.53,445.50 L218.13,445.50 L218.73,445.50 L219.34,445.50 L219.94,445.50 L220.54,445.50 L221.14,445.50 L221.74,445.50 L222.34,445.50 L222.94,445.50 L223.54,445.50 L224.14,445.50 L224.74,445.50 L225.34,445.50 L225.94,445.50 L226.54,445.50 L227.14,445.50 L227.75,445.50 L228.35,445.50 L228.95,445.50 L229.55,445.50 L230.15,445.50 L230.75,445.50 L231.35,445.50 L231.95,445.50 L232.55,445.50 L233.15,445.50 L233.75,445.50 L234.35,445.50 L234.95,445.50 L235.55,445.50 L236.16,445.50 L236.76,445.50 L237.36,445.50 L237.96,445.50 L238.56,445.50 L239.16,445.50 L239.76,445.50 L240.36,445.50 L240.96,445.50 L241.56,445.50 L242.16,445.50 L242.76,445.50 L243.36,445.50 L243.96,445.50 L244.57,445.50 L245.17,445.50 L245.77,445.50 L246.37,445.50 L246.97,445.50 L247.57,445.50 L248.17,445.50 L248.77,445.50 L249.37,445.50 L249.97,445.50 L250.57,445.50 L251.17,445.50 L251.77,445.50 L252.37,445.50 L252.98,445.50 L253.58,445.50 L254.18,445.50 L254.78,445.50 L255.38,445.50 L255.98,445.50 L256.58,445.50 L257.18,445.50 L257.78,445.50 L258.38,445.50 L258.98,445.50 L259.58,445.50 L260.18,445.50 L260.78,445.50 L261.39,445.50 L261.99,445.50 L262.59,445.50 L263.19,445.50 L263.79,445.50 L264.39,445.50 L264.99,445.50 L265.59,445.50 L266.19,445.50 L266.79,445.50 L267.39,445.50 L267.99,445.50 L268.59,445.50 L269.19,445.50 L269.80,445.50 L270.40,445.50 L271.00,445.50 L271.60,445.50 L272.20,445.50 L272.80,445.50 L273.40,445.50 L274.00,445.50" fill="none" stroke="#555" stroke-width="1.0" stroke-linejoin="round" stroke-dasharray="1.3,1.5"/><path d="M19.50,445.50 L21.62,445.50 L23.73,444.49 L25.85,445.50 L27.96,445.09 L30.08,445.50 L32.19,444.85 L34.31,445.50 L36.42,445.06 L38.54,445.50 L40.65,444.84 L42.77,445.50 L44.88,444.83 L47.00,445.50 L49.15,444.70 L51.31,445.50 L53.47,443.27 L55.44,443.94 L57.18,440.75 L58.92,441.51 L60.66,438.87 L62.41,439.69 L64.18,435.69 L65.96,437.22 L67.73,432.98 L69.44,435.26 L70.97,430.32 L72.51,432.12 L74.04,427.08 L75.25,428.73 L76.23,422.66 L77.20,424.61 L78.17,419.79 L79.14,421.32 L80.08,414.30 L81.03,417.94 L81.98,410.84 L82.93,414.44 L83.95,407.64 L85.00,409.47 L86.05,403.57 L87.17,407.55 L88.33,400.36 L89.50,402.13 L90.67,397.10 L91.83,398.41 L92.91,393.02 L93.97,396.16 L95.03,387.84 L96.09,391.80 L97.60,386.05 L99.70,390.30 L101.62,385.40 L103.09,389.51 L104.56,381.73 L106.28,385.41 L108.33,380.93 L110.27,385.87 L111.90,380.54 L113.37,388.88 L113.83,385.38 L114.28,392.28 L114.74,387.70 L115.20,396.56 L115.96,391.67 L116.95,399.25 L117.94,395.34 L118.98,402.68 L120.10,400.53 L121.22,406.23 L122.24,403.16 L123.18,411.82 L124.13,406.55 L125.03,415.92 L125.85,410.79 L126.67,418.94 L127.31,415.04 L127.88,423.19 L128.45,420.76 L129.02,427.38 L129.59,424.96 L130.28,429.72 L131.25,429.51 L132.22,433.73 L133.18,433.24 L134.19,437.85 L135.22,436.23 L136.25,440.48 L137.86,440.60 L139.57,443.44 L141.27,443.38 L143.23,445.50 L145.38,444.42 L147.50,445.50 L149.61,444.85 L151.71,445.50 L153.81,444.84 L155.92,445.50 L158.02,444.53 L160.12,445.50 L162.23,444.52 L164.33,445.50 L166.43,444.86 L168.54,445.50 L170.64,444.57 L172.74,445.50 L174.85,444.98 L176.95,445.50 L179.05,444.86 L181.15,445.50 L183.26,444.76 L185.36,445.50 L187.46,444.57 L189.57,445.50 L191.67,444.71 L193.77,445.50 L195.88,444.76 L197.98,445.50 L200.08,444.98 L202.19,445.50 L204.29,445.09 L206.39,445.50 L208.50,444.77 L210.60,445.50 L212.70,444.76 L214.81,445.50 L216.91,444.84 L219.01,445.50 L221.12,445.15 L223.22,445.50 L225.32,444.60 L227.43,445.50 L229.53,444.54 L231.63,445.50 L233.74,444.67 L235.84,445.50 L237.94,444.84 L240.05,445.50 L242.15,445.09 L244.25,445.50 L246.36,444.81 L248.46,445.50 L250.56,444.77 L252.67,445.50 L254.77,444.78 L256.87,445.50 L258.98,444.52 L261.08,445.50 L263.18,444.54 L265.29,445.50 L267.39,444.80 L269.49,445.50 L271.60,444.68 L273.70,445.50 L274.00,445.50" fill="none" stroke="#444" stroke-width="0.9" stroke-linejoin="round" stroke-dasharray="4,1.5"/><path d="M19.50,445.50 L21.91,445.50 L24.32,444.56 L26.73,445.50 L29.14,444.45 L31.55,445.50 L33.95,444.68 L36.36,445.50 L38.77,444.62 L41.18,445.50 L43.59,444.66 L46.00,445.50 L48.46,444.28 L50.90,445.50 L53.30,443.24 L55.44,444.48 L57.43,441.30 L59.41,441.49 L61.40,437.53 L63.43,439.11 L65.46,435.07 L67.49,435.88 L69.38,431.16 L71.13,432.36 L72.88,427.66 L74.48,430.19 L75.59,424.43 L76.70,425.12 L77.81,419.56 L78.91,421.42 L79.99,414.78 L81.07,418.14 L82.16,408.64 L83.33,412.42 L84.59,404.28 L85.84,407.41 L87.17,402.21 L88.50,404.93 L89.83,396.24 L91.17,401.27 L92.41,391.58 L93.62,397.17 L94.84,389.31 L96.05,392.62 L98.30,384.92 L100.70,390.10 L102.38,384.10 L104.06,386.83 L106.07,382.04 L108.42,385.56 L110.66,380.21 L112.89,388.48 L115.23,383.60 L117.28,389.28 L119.05,384.25 L120.81,393.43 L122.52,388.93 L124.06,395.55 L125.09,392.65 L126.12,399.93 L127.09,396.99 L127.87,405.48 L128.65,402.28 L129.42,410.48 L130.18,406.86 L130.80,414.27 L131.42,410.64 L132.04,418.22 L132.80,417.15 L133.60,423.30 L134.40,421.41 L135.21,428.14 L136.07,426.56 L136.93,431.54 L137.79,431.61 L138.90,435.92 L140.10,435.87 L141.46,439.96 L143.29,439.40 L145.11,442.83 L147.11,442.59 L149.21,445.50 L151.50,444.58 L153.90,445.50 L156.31,444.75 L158.71,445.50 L161.11,444.87 L163.51,445.50 L165.91,444.94 L168.31,445.50 L170.72,444.91 L173.12,445.50 L175.52,444.59 L177.92,445.50 L180.32,445.14 L182.73,445.50 L185.13,444.77 L187.53,445.50 L189.93,444.86 L192.33,445.50 L194.74,444.52 L197.14,445.50 L199.54,444.88 L201.94,445.50 L204.34,444.93 L206.75,445.50 L209.15,444.87 L211.55,445.50 L213.95,444.83 L216.35,445.50 L218.76,444.60 L221.16,445.50 L223.56,444.78 L225.96,445.50 L228.36,445.00 L230.77,445.50 L233.17,445.03 L235.57,445.50 L237.97,444.57 L240.37,445.50 L242.77,444.50 L245.18,445.50 L247.58,444.66 L249.98,445.50 L252.38,444.51 L254.78,445.50 L257.19,445.08 L259.59,445.50 L261.99,445.05 L264.39,445.50 L266.79,445.09 L269.20,445.50 L271.60,444.80 L274.00,445.50 L274.00,445.50" fill="none" stroke="#333" stroke-width="0.9" stroke-linejoin="round" /><text x="26.6" y="276.1" font-size="12.25" font-weight="normal" fill="#111" text-anchor="start" >Jurkat</text><line x1="40.5" y1="284.3" x2="53.20" y2="324.88" stroke="#222" stroke-width="0.9"/><polygon points="54.40,328.70 51.19,324.47 54.62,323.39" fill="#222"/><text x="89.6" y="325.8" font-size="12.25" font-weight="normal" fill="#111" text-anchor="start" >Synd2-Jurkat + heparin</text><line x1="121.9" y1="330.2" x2="85.10" y2="345.38" stroke="#222" stroke-width="0.9"/><polygon points="81.40,346.90 85.34,343.33 86.71,346.66" fill="#222"/><text x="128.6" y="377.8" font-size="12.25" font-weight="normal" fill="#111" text-anchor="start" >Synd2-Jurkat</text><line x1="151.6" y1="381.8" x2="129.17" y2="389.85" stroke="#222" stroke-width="0.9"/><polygon points="125.40,391.20 129.50,387.82 130.71,391.21" fill="#222"/><text x="145.0" y="407.4" font-size="12.25" font-weight="normal" fill="#111" text-anchor="start" >Washed Synd2-Jurkat</text><line x1="166.4" y1="411.6" x2="128.70" y2="411.96" stroke="#222" stroke-width="0.9"/><polygon points="124.70,412.00 129.68,410.15 129.72,413.75" fill="#222"/><text transform="translate(311.9,235.5) scale(0.94,1.01)" font-size="25" font-weight="bold" fill="#000">D</text><rect x="309" y="283" width="130" height="96" fill="#fafafa" filter="url(#blur2)"/><text x="317.5" y="266.8" font-size="11.5" font-weight="normal" fill="#111" text-anchor="start" >1</text><text x="334.2" y="266.8" font-size="11.5" font-weight="normal" fill="#111" text-anchor="start" >2</text><text x="350.8" y="266.8" font-size="11.5" font-weight="normal" fill="#111" text-anchor="start" >3</text><text x="369.8" y="266.8" font-size="11.5" font-weight="normal" fill="#111" text-anchor="start" >4</text><text x="389.4" y="266.8" font-size="11.5" font-weight="normal" fill="#111" text-anchor="start" >5</text><text x="405.4" y="266.8" font-size="11.5" font-weight="normal" fill="#111" text-anchor="start" >6</text><text x="425.8" y="266.8" font-size="11.5" font-weight="normal" fill="#111" text-anchor="start" >7</text><text x="333.2" y="283.2" font-size="12" font-weight="normal" fill="#111" text-anchor="start" >S</text><text x="348.2" y="283.2" font-size="12" font-weight="normal" fill="#111" text-anchor="start" >Hi</text><text x="366.4" y="283.2" font-size="12" font-weight="normal" fill="#111" text-anchor="start" >Ha</text><text x="388.2" y="283.2" font-size="12" font-weight="normal" fill="#111" text-anchor="start" >S</text><text x="403.2" y="283.2" font-size="12" font-weight="normal" fill="#111" text-anchor="start" >Hi</text><text x="421.2" y="283.2" font-size="12" font-weight="normal" fill="#111" text-anchor="start" >Ha</text><rect x="313" y="283" width="14" height="94" fill="#f0f0f0" filter="url(#blur)"/><rect x="313.0" y="285.20" width="13.800000000000011" height="2.8" rx="1.4" fill="#9c9c9c" opacity="1.0" filter="url(#blur)"/><rect x="313.0" y="285.48" width="5.5" height="2.2399999999999998" rx="1.1" fill="#777" opacity="0.25" filter="url(#blur)"/><rect x="313.0" y="294.10" width="13.800000000000011" height="3.2" rx="1.6" fill="#969696" opacity="1.0" filter="url(#blur)"/><rect x="313.0" y="294.42" width="5.5" height="2.5600000000000005" rx="1.3" fill="#777" opacity="0.25" filter="url(#blur)"/><rect x="313.0" y="300.10" width="13.800000000000011" height="1.8" rx="0.9" fill="#d6d6d6" opacity="1.0" filter="url(#blur)"/><rect x="313.0" y="300.28" width="5.5" height="1.4400000000000002" rx="0.7" fill="#777" opacity="0.25" filter="url(#blur)"/><rect x="313.0" y="308.50" width="13.800000000000011" height="3.6" rx="1.8" fill="#888888" opacity="1.0" filter="url(#blur)"/><rect x="313.0" y="308.86" width="5.5" height="2.8800000000000003" rx="1.4" fill="#777" opacity="0.25" filter="url(#blur)"/><rect x="313.0" y="317.60" width="13.800000000000011" height="1.8" rx="0.9" fill="#d8d8d8" opacity="1.0" filter="url(#blur)"/><rect x="313.0" y="317.78" width="5.5" height="1.4400000000000002" rx="0.7" fill="#777" opacity="0.25" filter="url(#blur)"/><rect x="313.0" y="328.70" width="13.800000000000011" height="3.8" rx="1.9" fill="#9a9a9a" opacity="1.0" filter="url(#blur)"/><rect x="313.0" y="329.08" width="5.5" height="3.04" rx="1.5" fill="#777" opacity="0.25" filter="url(#blur)"/><rect x="313.0" y="339.30" width="13.800000000000011" height="3.2" rx="1.6" fill="#a4a4a4" opacity="1.0" filter="url(#blur)"/><rect x="313.0" y="339.62" width="5.5" height="2.5600000000000005" rx="1.3" fill="#777" opacity="0.25" filter="url(#blur)"/><rect x="313.0" y="345.70" width="13.800000000000011" height="1.6" rx="0.8" fill="#dcdcdc" opacity="1.0" filter="url(#blur)"/><rect x="313.0" y="345.86" width="5.5" height="1.2800000000000002" rx="0.6" fill="#777" opacity="0.25" filter="url(#blur)"/><rect x="313.0" y="362.20" width="13.800000000000011" height="3.6" rx="1.8" fill="#a8a8a8" opacity="1.0" filter="url(#blur)"/><rect x="313.0" y="362.56" width="5.5" height="2.8800000000000003" rx="1.4" fill="#777" opacity="0.25" filter="url(#blur)"/><rect x="313.0" y="371.20" width="13.800000000000011" height="1.6" rx="0.8" fill="#e2e2e2" opacity="1.0" filter="url(#blur)"/><rect x="313.0" y="371.36" width="5.5" height="1.2800000000000002" rx="0.6" fill="#777" opacity="0.25" filter="url(#blur)"/><rect x="331" y="299.60" width="15" height="1.2" rx="0.6" fill="#e4e4e4" opacity="1.0" filter="url(#blur)"/><rect x="330.6" y="319.20" width="15.799999999999955" height="2.2" rx="1.1" fill="#b0b0b0" opacity="1.0" filter="url(#blur)"/><rect x="330.0" y="322.60" width="16.600000000000023" height="4.8" rx="2.0" fill="#4e4e4e" opacity="1.0" filter="url(#blur)"/><rect x="349" y="324.50" width="16" height="1.4" rx="0.7" fill="#d4d4d4" opacity="1.0" filter="url(#blur)"/><rect x="367" y="324.90" width="14" height="1.4" rx="0.7" fill="#d6d6d6" opacity="1.0" filter="url(#blur)"/><rect x="384.6" y="309.90" width="16.0" height="4.6" rx="2.0" fill="#4c4c4c" opacity="1.0" filter="url(#blur)"/><rect x="385" y="321.70" width="15.5" height="1.6" rx="0.8" fill="#d6d6d6" opacity="1.0" filter="url(#blur)"/><rect x="385" y="325.90" width="15.5" height="2.4" rx="1.2" fill="#a2a2a2" opacity="1.0" filter="url(#blur)"/><rect x="404.2" y="311.40" width="14.0" height="3.2" rx="1.6" fill="#767676" opacity="1.0" filter="url(#blur)"/><rect x="422.3" y="303.90" width="13.699999999999989" height="2.2" rx="1.1" fill="#b0b0b0" opacity="1.0" filter="url(#blur)"/><rect x="422.3" y="311.60" width="13.699999999999989" height="3.8" rx="1.9" fill="#6c6c6c" opacity="1.0" filter="url(#blur)"/><line x1="469.6" y1="314.1" x2="446.20" y2="314.10" stroke="#111" stroke-width="1.1"/><polygon points="440.70,314.10 447.20,311.90 447.20,316.30" fill="#111"/><line x1="469.6" y1="328.5" x2="446.20" y2="328.50" stroke="#111" stroke-width="1.1"/><polygon points="440.70,328.50 447.20,326.30 447.20,330.70" fill="#111"/><text x="472.0" y="317.6" font-size="12.2" font-weight="normal" fill="#111" text-anchor="start" >TACI-Fc</text><text x="473.2" y="332.2" font-size="12.2" font-weight="normal" fill="#111" text-anchor="start" >0-Fc</text></svg>
</body></html>
